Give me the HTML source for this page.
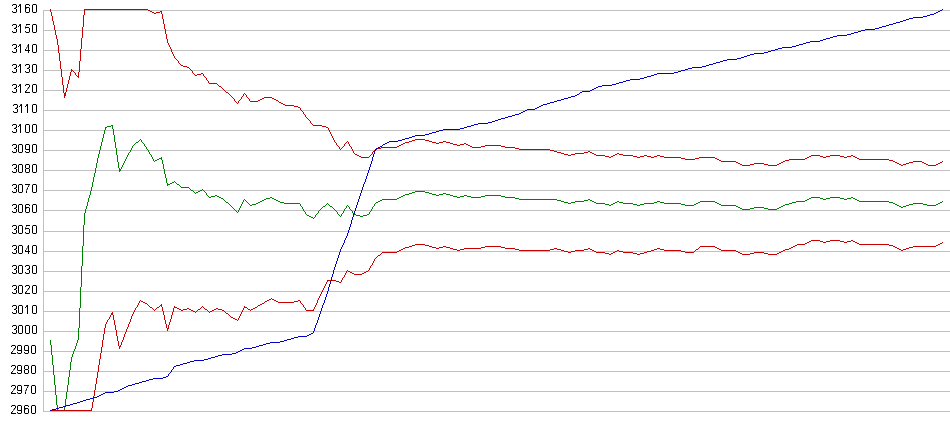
<!DOCTYPE html>
<html><head><meta charset="utf-8"><style>
html,body{margin:0;padding:0;background:#fff;}
body{width:950px;height:435px;overflow:hidden;position:relative;font-family:"Liberation Sans",sans-serif;}
.g{position:absolute;left:43px;width:907px;height:1px;background:#c0c0c0;}
.ax{position:absolute;left:43px;top:10px;width:1px;height:402px;background:#c0c0c0;}
.t{position:absolute;left:8px;width:30px;text-align:right;font-size:12px;line-height:9px;height:9px;color:transparent;white-space:nowrap;}
svg{position:absolute;left:0;top:0;}
</style></head><body>
<div class="g" style="top:10px"></div>
<div class="g" style="top:30px"></div>
<div class="g" style="top:50px"></div>
<div class="g" style="top:70px"></div>
<div class="g" style="top:90px"></div>
<div class="g" style="top:110px"></div>
<div class="g" style="top:130px"></div>
<div class="g" style="top:150px"></div>
<div class="g" style="top:170px"></div>
<div class="g" style="top:190px"></div>
<div class="g" style="top:210px"></div>
<div class="g" style="top:231px"></div>
<div class="g" style="top:251px"></div>
<div class="g" style="top:271px"></div>
<div class="g" style="top:291px"></div>
<div class="g" style="top:311px"></div>
<div class="g" style="top:331px"></div>
<div class="g" style="top:351px"></div>
<div class="g" style="top:371px"></div>
<div class="g" style="top:391px"></div>
<div class="g" style="top:411px"></div>
<div class="ax"></div>
<svg width="44" height="435" viewBox="0 0 44 435" shape-rendering="crispEdges"><path fill="#000000" d="M13 4h1v1h-1zM14 4h1v1h-1zM15 4h1v1h-1zM12 5h1v1h-1zM16 5h1v1h-1zM16 6h1v1h-1zM16 7h1v1h-1zM14 8h1v1h-1zM15 8h1v1h-1zM16 9h1v1h-1zM16 10h1v1h-1zM12 11h1v1h-1zM16 11h1v1h-1zM13 12h1v1h-1zM14 12h1v1h-1zM15 12h1v1h-1zM20 4h1v1h-1zM19 5h1v1h-1zM20 5h1v1h-1zM18 6h1v1h-1zM20 6h1v1h-1zM20 7h1v1h-1zM20 8h1v1h-1zM20 9h1v1h-1zM20 10h1v1h-1zM20 11h1v1h-1zM20 12h1v1h-1zM26 4h1v1h-1zM27 4h1v1h-1zM28 4h1v1h-1zM25 5h1v1h-1zM29 5h1v1h-1zM25 6h1v1h-1zM25 7h1v1h-1zM26 7h1v1h-1zM27 7h1v1h-1zM28 7h1v1h-1zM25 8h1v1h-1zM29 8h1v1h-1zM25 9h1v1h-1zM29 9h1v1h-1zM25 10h1v1h-1zM29 10h1v1h-1zM25 11h1v1h-1zM29 11h1v1h-1zM26 12h1v1h-1zM27 12h1v1h-1zM28 12h1v1h-1zM33 4h1v1h-1zM34 4h1v1h-1zM35 4h1v1h-1zM32 5h1v1h-1zM36 5h1v1h-1zM32 6h1v1h-1zM36 6h1v1h-1zM32 7h1v1h-1zM36 7h1v1h-1zM32 8h1v1h-1zM36 8h1v1h-1zM32 9h1v1h-1zM36 9h1v1h-1zM32 10h1v1h-1zM36 10h1v1h-1zM32 11h1v1h-1zM36 11h1v1h-1zM33 12h1v1h-1zM34 12h1v1h-1zM35 12h1v1h-1zM13 24h1v1h-1zM14 24h1v1h-1zM15 24h1v1h-1zM12 25h1v1h-1zM16 25h1v1h-1zM16 26h1v1h-1zM16 27h1v1h-1zM14 28h1v1h-1zM15 28h1v1h-1zM16 29h1v1h-1zM16 30h1v1h-1zM12 31h1v1h-1zM16 31h1v1h-1zM13 32h1v1h-1zM14 32h1v1h-1zM15 32h1v1h-1zM20 24h1v1h-1zM19 25h1v1h-1zM20 25h1v1h-1zM18 26h1v1h-1zM20 26h1v1h-1zM20 27h1v1h-1zM20 28h1v1h-1zM20 29h1v1h-1zM20 30h1v1h-1zM20 31h1v1h-1zM20 32h1v1h-1zM26 24h1v1h-1zM27 24h1v1h-1zM28 24h1v1h-1zM29 24h1v1h-1zM25 27h1v1h-1zM26 27h1v1h-1zM27 27h1v1h-1zM28 27h1v1h-1zM29 28h1v1h-1zM29 29h1v1h-1zM29 30h1v1h-1zM25 31h1v1h-1zM29 31h1v1h-1zM26 32h1v1h-1zM27 32h1v1h-1zM28 32h1v1h-1zM33 24h1v1h-1zM34 24h1v1h-1zM35 24h1v1h-1zM32 25h1v1h-1zM36 25h1v1h-1zM32 26h1v1h-1zM36 26h1v1h-1zM32 27h1v1h-1zM36 27h1v1h-1zM32 28h1v1h-1zM36 28h1v1h-1zM32 29h1v1h-1zM36 29h1v1h-1zM32 30h1v1h-1zM36 30h1v1h-1zM32 31h1v1h-1zM36 31h1v1h-1zM33 32h1v1h-1zM34 32h1v1h-1zM35 32h1v1h-1zM13 44h1v1h-1zM14 44h1v1h-1zM15 44h1v1h-1zM12 45h1v1h-1zM16 45h1v1h-1zM16 46h1v1h-1zM16 47h1v1h-1zM14 48h1v1h-1zM15 48h1v1h-1zM16 49h1v1h-1zM16 50h1v1h-1zM12 51h1v1h-1zM16 51h1v1h-1zM13 52h1v1h-1zM14 52h1v1h-1zM15 52h1v1h-1zM20 44h1v1h-1zM19 45h1v1h-1zM20 45h1v1h-1zM18 46h1v1h-1zM20 46h1v1h-1zM20 47h1v1h-1zM20 48h1v1h-1zM20 49h1v1h-1zM20 50h1v1h-1zM20 51h1v1h-1zM20 52h1v1h-1zM28 44h1v1h-1zM28 45h1v1h-1zM28 46h1v1h-1zM28 47h1v1h-1zM28 48h1v1h-1zM25 49h1v1h-1zM28 49h1v1h-1zM25 50h1v1h-1zM26 50h1v1h-1zM27 50h1v1h-1zM28 50h1v1h-1zM29 50h1v1h-1zM28 51h1v1h-1zM28 52h1v1h-1zM33 44h1v1h-1zM34 44h1v1h-1zM35 44h1v1h-1zM32 45h1v1h-1zM36 45h1v1h-1zM32 46h1v1h-1zM36 46h1v1h-1zM32 47h1v1h-1zM36 47h1v1h-1zM32 48h1v1h-1zM36 48h1v1h-1zM32 49h1v1h-1zM36 49h1v1h-1zM32 50h1v1h-1zM36 50h1v1h-1zM32 51h1v1h-1zM36 51h1v1h-1zM33 52h1v1h-1zM34 52h1v1h-1zM35 52h1v1h-1zM13 64h1v1h-1zM14 64h1v1h-1zM15 64h1v1h-1zM12 65h1v1h-1zM16 65h1v1h-1zM16 66h1v1h-1zM16 67h1v1h-1zM14 68h1v1h-1zM15 68h1v1h-1zM16 69h1v1h-1zM16 70h1v1h-1zM12 71h1v1h-1zM16 71h1v1h-1zM13 72h1v1h-1zM14 72h1v1h-1zM15 72h1v1h-1zM20 64h1v1h-1zM19 65h1v1h-1zM20 65h1v1h-1zM18 66h1v1h-1zM20 66h1v1h-1zM20 67h1v1h-1zM20 68h1v1h-1zM20 69h1v1h-1zM20 70h1v1h-1zM20 71h1v1h-1zM20 72h1v1h-1zM26 64h1v1h-1zM27 64h1v1h-1zM28 64h1v1h-1zM25 65h1v1h-1zM29 65h1v1h-1zM29 66h1v1h-1zM29 67h1v1h-1zM27 68h1v1h-1zM28 68h1v1h-1zM29 69h1v1h-1zM29 70h1v1h-1zM25 71h1v1h-1zM29 71h1v1h-1zM26 72h1v1h-1zM27 72h1v1h-1zM28 72h1v1h-1zM33 64h1v1h-1zM34 64h1v1h-1zM35 64h1v1h-1zM32 65h1v1h-1zM36 65h1v1h-1zM32 66h1v1h-1zM36 66h1v1h-1zM32 67h1v1h-1zM36 67h1v1h-1zM32 68h1v1h-1zM36 68h1v1h-1zM32 69h1v1h-1zM36 69h1v1h-1zM32 70h1v1h-1zM36 70h1v1h-1zM32 71h1v1h-1zM36 71h1v1h-1zM33 72h1v1h-1zM34 72h1v1h-1zM35 72h1v1h-1zM13 84h1v1h-1zM14 84h1v1h-1zM15 84h1v1h-1zM12 85h1v1h-1zM16 85h1v1h-1zM16 86h1v1h-1zM16 87h1v1h-1zM14 88h1v1h-1zM15 88h1v1h-1zM16 89h1v1h-1zM16 90h1v1h-1zM12 91h1v1h-1zM16 91h1v1h-1zM13 92h1v1h-1zM14 92h1v1h-1zM15 92h1v1h-1zM20 84h1v1h-1zM19 85h1v1h-1zM20 85h1v1h-1zM18 86h1v1h-1zM20 86h1v1h-1zM20 87h1v1h-1zM20 88h1v1h-1zM20 89h1v1h-1zM20 90h1v1h-1zM20 91h1v1h-1zM20 92h1v1h-1zM26 84h1v1h-1zM27 84h1v1h-1zM28 84h1v1h-1zM25 85h1v1h-1zM29 85h1v1h-1zM29 86h1v1h-1zM28 87h1v1h-1zM26 90h1v1h-1zM25 91h1v1h-1zM25 92h1v1h-1zM26 92h1v1h-1zM27 92h1v1h-1zM28 92h1v1h-1zM29 92h1v1h-1zM33 84h1v1h-1zM34 84h1v1h-1zM35 84h1v1h-1zM32 85h1v1h-1zM36 85h1v1h-1zM32 86h1v1h-1zM36 86h1v1h-1zM32 87h1v1h-1zM36 87h1v1h-1zM32 88h1v1h-1zM36 88h1v1h-1zM32 89h1v1h-1zM36 89h1v1h-1zM32 90h1v1h-1zM36 90h1v1h-1zM32 91h1v1h-1zM36 91h1v1h-1zM33 92h1v1h-1zM34 92h1v1h-1zM35 92h1v1h-1zM14 104h1v1h-1zM15 104h1v1h-1zM16 104h1v1h-1zM13 105h1v1h-1zM17 105h1v1h-1zM17 106h1v1h-1zM17 107h1v1h-1zM15 108h1v1h-1zM16 108h1v1h-1zM17 109h1v1h-1zM17 110h1v1h-1zM13 111h1v1h-1zM17 111h1v1h-1zM14 112h1v1h-1zM15 112h1v1h-1zM16 112h1v1h-1zM21 104h1v1h-1zM20 105h1v1h-1zM21 105h1v1h-1zM19 106h1v1h-1zM21 106h1v1h-1zM21 107h1v1h-1zM21 108h1v1h-1zM21 109h1v1h-1zM21 110h1v1h-1zM21 111h1v1h-1zM21 112h1v1h-1zM27 104h1v1h-1zM26 105h1v1h-1zM27 105h1v1h-1zM25 106h1v1h-1zM27 106h1v1h-1zM27 107h1v1h-1zM27 108h1v1h-1zM27 109h1v1h-1zM27 110h1v1h-1zM27 111h1v1h-1zM27 112h1v1h-1zM33 104h1v1h-1zM34 104h1v1h-1zM35 104h1v1h-1zM32 105h1v1h-1zM36 105h1v1h-1zM32 106h1v1h-1zM36 106h1v1h-1zM32 107h1v1h-1zM36 107h1v1h-1zM32 108h1v1h-1zM36 108h1v1h-1zM32 109h1v1h-1zM36 109h1v1h-1zM32 110h1v1h-1zM36 110h1v1h-1zM32 111h1v1h-1zM36 111h1v1h-1zM33 112h1v1h-1zM34 112h1v1h-1zM35 112h1v1h-1zM13 124h1v1h-1zM14 124h1v1h-1zM15 124h1v1h-1zM12 125h1v1h-1zM16 125h1v1h-1zM16 126h1v1h-1zM16 127h1v1h-1zM14 128h1v1h-1zM15 128h1v1h-1zM16 129h1v1h-1zM16 130h1v1h-1zM12 131h1v1h-1zM16 131h1v1h-1zM13 132h1v1h-1zM14 132h1v1h-1zM15 132h1v1h-1zM20 124h1v1h-1zM19 125h1v1h-1zM20 125h1v1h-1zM18 126h1v1h-1zM20 126h1v1h-1zM20 127h1v1h-1zM20 128h1v1h-1zM20 129h1v1h-1zM20 130h1v1h-1zM20 131h1v1h-1zM20 132h1v1h-1zM26 124h1v1h-1zM27 124h1v1h-1zM28 124h1v1h-1zM25 125h1v1h-1zM29 125h1v1h-1zM25 126h1v1h-1zM29 126h1v1h-1zM25 127h1v1h-1zM29 127h1v1h-1zM25 128h1v1h-1zM29 128h1v1h-1zM25 129h1v1h-1zM29 129h1v1h-1zM25 130h1v1h-1zM29 130h1v1h-1zM25 131h1v1h-1zM29 131h1v1h-1zM26 132h1v1h-1zM27 132h1v1h-1zM28 132h1v1h-1zM33 124h1v1h-1zM34 124h1v1h-1zM35 124h1v1h-1zM32 125h1v1h-1zM36 125h1v1h-1zM32 126h1v1h-1zM36 126h1v1h-1zM32 127h1v1h-1zM36 127h1v1h-1zM32 128h1v1h-1zM36 128h1v1h-1zM32 129h1v1h-1zM36 129h1v1h-1zM32 130h1v1h-1zM36 130h1v1h-1zM32 131h1v1h-1zM36 131h1v1h-1zM33 132h1v1h-1zM34 132h1v1h-1zM35 132h1v1h-1zM13 144h1v1h-1zM14 144h1v1h-1zM15 144h1v1h-1zM12 145h1v1h-1zM16 145h1v1h-1zM16 146h1v1h-1zM16 147h1v1h-1zM14 148h1v1h-1zM15 148h1v1h-1zM16 149h1v1h-1zM16 150h1v1h-1zM12 151h1v1h-1zM16 151h1v1h-1zM13 152h1v1h-1zM14 152h1v1h-1zM15 152h1v1h-1zM19 144h1v1h-1zM20 144h1v1h-1zM21 144h1v1h-1zM18 145h1v1h-1zM22 145h1v1h-1zM18 146h1v1h-1zM22 146h1v1h-1zM18 147h1v1h-1zM22 147h1v1h-1zM18 148h1v1h-1zM22 148h1v1h-1zM18 149h1v1h-1zM22 149h1v1h-1zM18 150h1v1h-1zM22 150h1v1h-1zM18 151h1v1h-1zM22 151h1v1h-1zM19 152h1v1h-1zM20 152h1v1h-1zM21 152h1v1h-1zM26 144h1v1h-1zM27 144h1v1h-1zM28 144h1v1h-1zM25 145h1v1h-1zM29 145h1v1h-1zM25 146h1v1h-1zM29 146h1v1h-1zM25 147h1v1h-1zM29 147h1v1h-1zM25 148h1v1h-1zM29 148h1v1h-1zM26 149h1v1h-1zM27 149h1v1h-1zM28 149h1v1h-1zM29 149h1v1h-1zM29 150h1v1h-1zM25 151h1v1h-1zM29 151h1v1h-1zM26 152h1v1h-1zM27 152h1v1h-1zM28 152h1v1h-1zM33 144h1v1h-1zM34 144h1v1h-1zM35 144h1v1h-1zM32 145h1v1h-1zM36 145h1v1h-1zM32 146h1v1h-1zM36 146h1v1h-1zM32 147h1v1h-1zM36 147h1v1h-1zM32 148h1v1h-1zM36 148h1v1h-1zM32 149h1v1h-1zM36 149h1v1h-1zM32 150h1v1h-1zM36 150h1v1h-1zM32 151h1v1h-1zM36 151h1v1h-1zM33 152h1v1h-1zM34 152h1v1h-1zM35 152h1v1h-1zM13 164h1v1h-1zM14 164h1v1h-1zM15 164h1v1h-1zM12 165h1v1h-1zM16 165h1v1h-1zM16 166h1v1h-1zM16 167h1v1h-1zM14 168h1v1h-1zM15 168h1v1h-1zM16 169h1v1h-1zM16 170h1v1h-1zM12 171h1v1h-1zM16 171h1v1h-1zM13 172h1v1h-1zM14 172h1v1h-1zM15 172h1v1h-1zM19 164h1v1h-1zM20 164h1v1h-1zM21 164h1v1h-1zM18 165h1v1h-1zM22 165h1v1h-1zM18 166h1v1h-1zM22 166h1v1h-1zM18 167h1v1h-1zM22 167h1v1h-1zM18 168h1v1h-1zM22 168h1v1h-1zM18 169h1v1h-1zM22 169h1v1h-1zM18 170h1v1h-1zM22 170h1v1h-1zM18 171h1v1h-1zM22 171h1v1h-1zM19 172h1v1h-1zM20 172h1v1h-1zM21 172h1v1h-1zM26 164h1v1h-1zM27 164h1v1h-1zM28 164h1v1h-1zM25 165h1v1h-1zM29 165h1v1h-1zM25 166h1v1h-1zM29 166h1v1h-1zM25 167h1v1h-1zM29 167h1v1h-1zM26 168h1v1h-1zM27 168h1v1h-1zM28 168h1v1h-1zM25 169h1v1h-1zM29 169h1v1h-1zM25 170h1v1h-1zM29 170h1v1h-1zM25 171h1v1h-1zM29 171h1v1h-1zM26 172h1v1h-1zM27 172h1v1h-1zM28 172h1v1h-1zM33 164h1v1h-1zM34 164h1v1h-1zM35 164h1v1h-1zM32 165h1v1h-1zM36 165h1v1h-1zM32 166h1v1h-1zM36 166h1v1h-1zM32 167h1v1h-1zM36 167h1v1h-1zM32 168h1v1h-1zM36 168h1v1h-1zM32 169h1v1h-1zM36 169h1v1h-1zM32 170h1v1h-1zM36 170h1v1h-1zM32 171h1v1h-1zM36 171h1v1h-1zM33 172h1v1h-1zM34 172h1v1h-1zM35 172h1v1h-1zM13 184h1v1h-1zM14 184h1v1h-1zM15 184h1v1h-1zM12 185h1v1h-1zM16 185h1v1h-1zM16 186h1v1h-1zM16 187h1v1h-1zM14 188h1v1h-1zM15 188h1v1h-1zM16 189h1v1h-1zM16 190h1v1h-1zM12 191h1v1h-1zM16 191h1v1h-1zM13 192h1v1h-1zM14 192h1v1h-1zM15 192h1v1h-1zM19 184h1v1h-1zM20 184h1v1h-1zM21 184h1v1h-1zM18 185h1v1h-1zM22 185h1v1h-1zM18 186h1v1h-1zM22 186h1v1h-1zM18 187h1v1h-1zM22 187h1v1h-1zM18 188h1v1h-1zM22 188h1v1h-1zM18 189h1v1h-1zM22 189h1v1h-1zM18 190h1v1h-1zM22 190h1v1h-1zM18 191h1v1h-1zM22 191h1v1h-1zM19 192h1v1h-1zM20 192h1v1h-1zM21 192h1v1h-1zM25 184h1v1h-1zM26 184h1v1h-1zM27 184h1v1h-1zM28 184h1v1h-1zM29 184h1v1h-1zM28 186h1v1h-1zM27 188h1v1h-1zM26 191h1v1h-1zM26 192h1v1h-1zM33 184h1v1h-1zM34 184h1v1h-1zM35 184h1v1h-1zM32 185h1v1h-1zM36 185h1v1h-1zM32 186h1v1h-1zM36 186h1v1h-1zM32 187h1v1h-1zM36 187h1v1h-1zM32 188h1v1h-1zM36 188h1v1h-1zM32 189h1v1h-1zM36 189h1v1h-1zM32 190h1v1h-1zM36 190h1v1h-1zM32 191h1v1h-1zM36 191h1v1h-1zM33 192h1v1h-1zM34 192h1v1h-1zM35 192h1v1h-1zM13 204h1v1h-1zM14 204h1v1h-1zM15 204h1v1h-1zM12 205h1v1h-1zM16 205h1v1h-1zM16 206h1v1h-1zM16 207h1v1h-1zM14 208h1v1h-1zM15 208h1v1h-1zM16 209h1v1h-1zM16 210h1v1h-1zM12 211h1v1h-1zM16 211h1v1h-1zM13 212h1v1h-1zM14 212h1v1h-1zM15 212h1v1h-1zM19 204h1v1h-1zM20 204h1v1h-1zM21 204h1v1h-1zM18 205h1v1h-1zM22 205h1v1h-1zM18 206h1v1h-1zM22 206h1v1h-1zM18 207h1v1h-1zM22 207h1v1h-1zM18 208h1v1h-1zM22 208h1v1h-1zM18 209h1v1h-1zM22 209h1v1h-1zM18 210h1v1h-1zM22 210h1v1h-1zM18 211h1v1h-1zM22 211h1v1h-1zM19 212h1v1h-1zM20 212h1v1h-1zM21 212h1v1h-1zM26 204h1v1h-1zM27 204h1v1h-1zM28 204h1v1h-1zM25 205h1v1h-1zM29 205h1v1h-1zM25 206h1v1h-1zM25 207h1v1h-1zM26 207h1v1h-1zM27 207h1v1h-1zM28 207h1v1h-1zM25 208h1v1h-1zM29 208h1v1h-1zM25 209h1v1h-1zM29 209h1v1h-1zM25 210h1v1h-1zM29 210h1v1h-1zM25 211h1v1h-1zM29 211h1v1h-1zM26 212h1v1h-1zM27 212h1v1h-1zM28 212h1v1h-1zM33 204h1v1h-1zM34 204h1v1h-1zM35 204h1v1h-1zM32 205h1v1h-1zM36 205h1v1h-1zM32 206h1v1h-1zM36 206h1v1h-1zM32 207h1v1h-1zM36 207h1v1h-1zM32 208h1v1h-1zM36 208h1v1h-1zM32 209h1v1h-1zM36 209h1v1h-1zM32 210h1v1h-1zM36 210h1v1h-1zM32 211h1v1h-1zM36 211h1v1h-1zM33 212h1v1h-1zM34 212h1v1h-1zM35 212h1v1h-1zM13 225h1v1h-1zM14 225h1v1h-1zM15 225h1v1h-1zM12 226h1v1h-1zM16 226h1v1h-1zM16 227h1v1h-1zM16 228h1v1h-1zM14 229h1v1h-1zM15 229h1v1h-1zM16 230h1v1h-1zM16 231h1v1h-1zM12 232h1v1h-1zM16 232h1v1h-1zM13 233h1v1h-1zM14 233h1v1h-1zM15 233h1v1h-1zM19 225h1v1h-1zM20 225h1v1h-1zM21 225h1v1h-1zM18 226h1v1h-1zM22 226h1v1h-1zM18 227h1v1h-1zM22 227h1v1h-1zM18 228h1v1h-1zM22 228h1v1h-1zM18 229h1v1h-1zM22 229h1v1h-1zM18 230h1v1h-1zM22 230h1v1h-1zM18 231h1v1h-1zM22 231h1v1h-1zM18 232h1v1h-1zM22 232h1v1h-1zM19 233h1v1h-1zM20 233h1v1h-1zM21 233h1v1h-1zM26 225h1v1h-1zM27 225h1v1h-1zM28 225h1v1h-1zM29 225h1v1h-1zM25 228h1v1h-1zM26 228h1v1h-1zM27 228h1v1h-1zM28 228h1v1h-1zM29 229h1v1h-1zM29 230h1v1h-1zM29 231h1v1h-1zM25 232h1v1h-1zM29 232h1v1h-1zM26 233h1v1h-1zM27 233h1v1h-1zM28 233h1v1h-1zM33 225h1v1h-1zM34 225h1v1h-1zM35 225h1v1h-1zM32 226h1v1h-1zM36 226h1v1h-1zM32 227h1v1h-1zM36 227h1v1h-1zM32 228h1v1h-1zM36 228h1v1h-1zM32 229h1v1h-1zM36 229h1v1h-1zM32 230h1v1h-1zM36 230h1v1h-1zM32 231h1v1h-1zM36 231h1v1h-1zM32 232h1v1h-1zM36 232h1v1h-1zM33 233h1v1h-1zM34 233h1v1h-1zM35 233h1v1h-1zM13 245h1v1h-1zM14 245h1v1h-1zM15 245h1v1h-1zM12 246h1v1h-1zM16 246h1v1h-1zM16 247h1v1h-1zM16 248h1v1h-1zM14 249h1v1h-1zM15 249h1v1h-1zM16 250h1v1h-1zM16 251h1v1h-1zM12 252h1v1h-1zM16 252h1v1h-1zM13 253h1v1h-1zM14 253h1v1h-1zM15 253h1v1h-1zM19 245h1v1h-1zM20 245h1v1h-1zM21 245h1v1h-1zM18 246h1v1h-1zM22 246h1v1h-1zM18 247h1v1h-1zM22 247h1v1h-1zM18 248h1v1h-1zM22 248h1v1h-1zM18 249h1v1h-1zM22 249h1v1h-1zM18 250h1v1h-1zM22 250h1v1h-1zM18 251h1v1h-1zM22 251h1v1h-1zM18 252h1v1h-1zM22 252h1v1h-1zM19 253h1v1h-1zM20 253h1v1h-1zM21 253h1v1h-1zM28 245h1v1h-1zM28 246h1v1h-1zM28 247h1v1h-1zM28 248h1v1h-1zM28 249h1v1h-1zM25 250h1v1h-1zM28 250h1v1h-1zM25 251h1v1h-1zM26 251h1v1h-1zM27 251h1v1h-1zM28 251h1v1h-1zM29 251h1v1h-1zM28 252h1v1h-1zM28 253h1v1h-1zM33 245h1v1h-1zM34 245h1v1h-1zM35 245h1v1h-1zM32 246h1v1h-1zM36 246h1v1h-1zM32 247h1v1h-1zM36 247h1v1h-1zM32 248h1v1h-1zM36 248h1v1h-1zM32 249h1v1h-1zM36 249h1v1h-1zM32 250h1v1h-1zM36 250h1v1h-1zM32 251h1v1h-1zM36 251h1v1h-1zM32 252h1v1h-1zM36 252h1v1h-1zM33 253h1v1h-1zM34 253h1v1h-1zM35 253h1v1h-1zM13 265h1v1h-1zM14 265h1v1h-1zM15 265h1v1h-1zM12 266h1v1h-1zM16 266h1v1h-1zM16 267h1v1h-1zM16 268h1v1h-1zM14 269h1v1h-1zM15 269h1v1h-1zM16 270h1v1h-1zM16 271h1v1h-1zM12 272h1v1h-1zM16 272h1v1h-1zM13 273h1v1h-1zM14 273h1v1h-1zM15 273h1v1h-1zM19 265h1v1h-1zM20 265h1v1h-1zM21 265h1v1h-1zM18 266h1v1h-1zM22 266h1v1h-1zM18 267h1v1h-1zM22 267h1v1h-1zM18 268h1v1h-1zM22 268h1v1h-1zM18 269h1v1h-1zM22 269h1v1h-1zM18 270h1v1h-1zM22 270h1v1h-1zM18 271h1v1h-1zM22 271h1v1h-1zM18 272h1v1h-1zM22 272h1v1h-1zM19 273h1v1h-1zM20 273h1v1h-1zM21 273h1v1h-1zM26 265h1v1h-1zM27 265h1v1h-1zM28 265h1v1h-1zM25 266h1v1h-1zM29 266h1v1h-1zM29 267h1v1h-1zM29 268h1v1h-1zM27 269h1v1h-1zM28 269h1v1h-1zM29 270h1v1h-1zM29 271h1v1h-1zM25 272h1v1h-1zM29 272h1v1h-1zM26 273h1v1h-1zM27 273h1v1h-1zM28 273h1v1h-1zM33 265h1v1h-1zM34 265h1v1h-1zM35 265h1v1h-1zM32 266h1v1h-1zM36 266h1v1h-1zM32 267h1v1h-1zM36 267h1v1h-1zM32 268h1v1h-1zM36 268h1v1h-1zM32 269h1v1h-1zM36 269h1v1h-1zM32 270h1v1h-1zM36 270h1v1h-1zM32 271h1v1h-1zM36 271h1v1h-1zM32 272h1v1h-1zM36 272h1v1h-1zM33 273h1v1h-1zM34 273h1v1h-1zM35 273h1v1h-1zM13 285h1v1h-1zM14 285h1v1h-1zM15 285h1v1h-1zM12 286h1v1h-1zM16 286h1v1h-1zM16 287h1v1h-1zM16 288h1v1h-1zM14 289h1v1h-1zM15 289h1v1h-1zM16 290h1v1h-1zM16 291h1v1h-1zM12 292h1v1h-1zM16 292h1v1h-1zM13 293h1v1h-1zM14 293h1v1h-1zM15 293h1v1h-1zM19 285h1v1h-1zM20 285h1v1h-1zM21 285h1v1h-1zM18 286h1v1h-1zM22 286h1v1h-1zM18 287h1v1h-1zM22 287h1v1h-1zM18 288h1v1h-1zM22 288h1v1h-1zM18 289h1v1h-1zM22 289h1v1h-1zM18 290h1v1h-1zM22 290h1v1h-1zM18 291h1v1h-1zM22 291h1v1h-1zM18 292h1v1h-1zM22 292h1v1h-1zM19 293h1v1h-1zM20 293h1v1h-1zM21 293h1v1h-1zM26 285h1v1h-1zM27 285h1v1h-1zM28 285h1v1h-1zM25 286h1v1h-1zM29 286h1v1h-1zM29 287h1v1h-1zM28 288h1v1h-1zM26 291h1v1h-1zM25 292h1v1h-1zM25 293h1v1h-1zM26 293h1v1h-1zM27 293h1v1h-1zM28 293h1v1h-1zM29 293h1v1h-1zM33 285h1v1h-1zM34 285h1v1h-1zM35 285h1v1h-1zM32 286h1v1h-1zM36 286h1v1h-1zM32 287h1v1h-1zM36 287h1v1h-1zM32 288h1v1h-1zM36 288h1v1h-1zM32 289h1v1h-1zM36 289h1v1h-1zM32 290h1v1h-1zM36 290h1v1h-1zM32 291h1v1h-1zM36 291h1v1h-1zM32 292h1v1h-1zM36 292h1v1h-1zM33 293h1v1h-1zM34 293h1v1h-1zM35 293h1v1h-1zM13 305h1v1h-1zM14 305h1v1h-1zM15 305h1v1h-1zM12 306h1v1h-1zM16 306h1v1h-1zM16 307h1v1h-1zM16 308h1v1h-1zM14 309h1v1h-1zM15 309h1v1h-1zM16 310h1v1h-1zM16 311h1v1h-1zM12 312h1v1h-1zM16 312h1v1h-1zM13 313h1v1h-1zM14 313h1v1h-1zM15 313h1v1h-1zM19 305h1v1h-1zM20 305h1v1h-1zM21 305h1v1h-1zM18 306h1v1h-1zM22 306h1v1h-1zM18 307h1v1h-1zM22 307h1v1h-1zM18 308h1v1h-1zM22 308h1v1h-1zM18 309h1v1h-1zM22 309h1v1h-1zM18 310h1v1h-1zM22 310h1v1h-1zM18 311h1v1h-1zM22 311h1v1h-1zM18 312h1v1h-1zM22 312h1v1h-1zM19 313h1v1h-1zM20 313h1v1h-1zM21 313h1v1h-1zM27 305h1v1h-1zM26 306h1v1h-1zM27 306h1v1h-1zM25 307h1v1h-1zM27 307h1v1h-1zM27 308h1v1h-1zM27 309h1v1h-1zM27 310h1v1h-1zM27 311h1v1h-1zM27 312h1v1h-1zM27 313h1v1h-1zM33 305h1v1h-1zM34 305h1v1h-1zM35 305h1v1h-1zM32 306h1v1h-1zM36 306h1v1h-1zM32 307h1v1h-1zM36 307h1v1h-1zM32 308h1v1h-1zM36 308h1v1h-1zM32 309h1v1h-1zM36 309h1v1h-1zM32 310h1v1h-1zM36 310h1v1h-1zM32 311h1v1h-1zM36 311h1v1h-1zM32 312h1v1h-1zM36 312h1v1h-1zM33 313h1v1h-1zM34 313h1v1h-1zM35 313h1v1h-1zM13 325h1v1h-1zM14 325h1v1h-1zM15 325h1v1h-1zM12 326h1v1h-1zM16 326h1v1h-1zM16 327h1v1h-1zM16 328h1v1h-1zM14 329h1v1h-1zM15 329h1v1h-1zM16 330h1v1h-1zM16 331h1v1h-1zM12 332h1v1h-1zM16 332h1v1h-1zM13 333h1v1h-1zM14 333h1v1h-1zM15 333h1v1h-1zM19 325h1v1h-1zM20 325h1v1h-1zM21 325h1v1h-1zM18 326h1v1h-1zM22 326h1v1h-1zM18 327h1v1h-1zM22 327h1v1h-1zM18 328h1v1h-1zM22 328h1v1h-1zM18 329h1v1h-1zM22 329h1v1h-1zM18 330h1v1h-1zM22 330h1v1h-1zM18 331h1v1h-1zM22 331h1v1h-1zM18 332h1v1h-1zM22 332h1v1h-1zM19 333h1v1h-1zM20 333h1v1h-1zM21 333h1v1h-1zM26 325h1v1h-1zM27 325h1v1h-1zM28 325h1v1h-1zM25 326h1v1h-1zM29 326h1v1h-1zM25 327h1v1h-1zM29 327h1v1h-1zM25 328h1v1h-1zM29 328h1v1h-1zM25 329h1v1h-1zM29 329h1v1h-1zM25 330h1v1h-1zM29 330h1v1h-1zM25 331h1v1h-1zM29 331h1v1h-1zM25 332h1v1h-1zM29 332h1v1h-1zM26 333h1v1h-1zM27 333h1v1h-1zM28 333h1v1h-1zM33 325h1v1h-1zM34 325h1v1h-1zM35 325h1v1h-1zM32 326h1v1h-1zM36 326h1v1h-1zM32 327h1v1h-1zM36 327h1v1h-1zM32 328h1v1h-1zM36 328h1v1h-1zM32 329h1v1h-1zM36 329h1v1h-1zM32 330h1v1h-1zM36 330h1v1h-1zM32 331h1v1h-1zM36 331h1v1h-1zM32 332h1v1h-1zM36 332h1v1h-1zM33 333h1v1h-1zM34 333h1v1h-1zM35 333h1v1h-1zM12 345h1v1h-1zM13 345h1v1h-1zM14 345h1v1h-1zM11 346h1v1h-1zM15 346h1v1h-1zM15 347h1v1h-1zM14 348h1v1h-1zM12 351h1v1h-1zM11 352h1v1h-1zM11 353h1v1h-1zM12 353h1v1h-1zM13 353h1v1h-1zM14 353h1v1h-1zM15 353h1v1h-1zM18 345h1v1h-1zM19 345h1v1h-1zM20 345h1v1h-1zM17 346h1v1h-1zM21 346h1v1h-1zM17 347h1v1h-1zM21 347h1v1h-1zM17 348h1v1h-1zM21 348h1v1h-1zM17 349h1v1h-1zM21 349h1v1h-1zM18 350h1v1h-1zM19 350h1v1h-1zM20 350h1v1h-1zM21 350h1v1h-1zM21 351h1v1h-1zM17 352h1v1h-1zM21 352h1v1h-1zM18 353h1v1h-1zM19 353h1v1h-1zM20 353h1v1h-1zM25 345h1v1h-1zM26 345h1v1h-1zM27 345h1v1h-1zM24 346h1v1h-1zM28 346h1v1h-1zM24 347h1v1h-1zM28 347h1v1h-1zM24 348h1v1h-1zM28 348h1v1h-1zM24 349h1v1h-1zM28 349h1v1h-1zM25 350h1v1h-1zM26 350h1v1h-1zM27 350h1v1h-1zM28 350h1v1h-1zM28 351h1v1h-1zM24 352h1v1h-1zM28 352h1v1h-1zM25 353h1v1h-1zM26 353h1v1h-1zM27 353h1v1h-1zM32 345h1v1h-1zM33 345h1v1h-1zM34 345h1v1h-1zM31 346h1v1h-1zM35 346h1v1h-1zM31 347h1v1h-1zM35 347h1v1h-1zM31 348h1v1h-1zM35 348h1v1h-1zM31 349h1v1h-1zM35 349h1v1h-1zM31 350h1v1h-1zM35 350h1v1h-1zM31 351h1v1h-1zM35 351h1v1h-1zM31 352h1v1h-1zM35 352h1v1h-1zM32 353h1v1h-1zM33 353h1v1h-1zM34 353h1v1h-1zM12 365h1v1h-1zM13 365h1v1h-1zM14 365h1v1h-1zM11 366h1v1h-1zM15 366h1v1h-1zM15 367h1v1h-1zM14 368h1v1h-1zM12 371h1v1h-1zM11 372h1v1h-1zM11 373h1v1h-1zM12 373h1v1h-1zM13 373h1v1h-1zM14 373h1v1h-1zM15 373h1v1h-1zM18 365h1v1h-1zM19 365h1v1h-1zM20 365h1v1h-1zM17 366h1v1h-1zM21 366h1v1h-1zM17 367h1v1h-1zM21 367h1v1h-1zM17 368h1v1h-1zM21 368h1v1h-1zM17 369h1v1h-1zM21 369h1v1h-1zM18 370h1v1h-1zM19 370h1v1h-1zM20 370h1v1h-1zM21 370h1v1h-1zM21 371h1v1h-1zM17 372h1v1h-1zM21 372h1v1h-1zM18 373h1v1h-1zM19 373h1v1h-1zM20 373h1v1h-1zM25 365h1v1h-1zM26 365h1v1h-1zM27 365h1v1h-1zM24 366h1v1h-1zM28 366h1v1h-1zM24 367h1v1h-1zM28 367h1v1h-1zM24 368h1v1h-1zM28 368h1v1h-1zM25 369h1v1h-1zM26 369h1v1h-1zM27 369h1v1h-1zM24 370h1v1h-1zM28 370h1v1h-1zM24 371h1v1h-1zM28 371h1v1h-1zM24 372h1v1h-1zM28 372h1v1h-1zM25 373h1v1h-1zM26 373h1v1h-1zM27 373h1v1h-1zM32 365h1v1h-1zM33 365h1v1h-1zM34 365h1v1h-1zM31 366h1v1h-1zM35 366h1v1h-1zM31 367h1v1h-1zM35 367h1v1h-1zM31 368h1v1h-1zM35 368h1v1h-1zM31 369h1v1h-1zM35 369h1v1h-1zM31 370h1v1h-1zM35 370h1v1h-1zM31 371h1v1h-1zM35 371h1v1h-1zM31 372h1v1h-1zM35 372h1v1h-1zM32 373h1v1h-1zM33 373h1v1h-1zM34 373h1v1h-1zM12 385h1v1h-1zM13 385h1v1h-1zM14 385h1v1h-1zM11 386h1v1h-1zM15 386h1v1h-1zM15 387h1v1h-1zM14 388h1v1h-1zM12 391h1v1h-1zM11 392h1v1h-1zM11 393h1v1h-1zM12 393h1v1h-1zM13 393h1v1h-1zM14 393h1v1h-1zM15 393h1v1h-1zM18 385h1v1h-1zM19 385h1v1h-1zM20 385h1v1h-1zM17 386h1v1h-1zM21 386h1v1h-1zM17 387h1v1h-1zM21 387h1v1h-1zM17 388h1v1h-1zM21 388h1v1h-1zM17 389h1v1h-1zM21 389h1v1h-1zM18 390h1v1h-1zM19 390h1v1h-1zM20 390h1v1h-1zM21 390h1v1h-1zM21 391h1v1h-1zM17 392h1v1h-1zM21 392h1v1h-1zM18 393h1v1h-1zM19 393h1v1h-1zM20 393h1v1h-1zM24 385h1v1h-1zM25 385h1v1h-1zM26 385h1v1h-1zM27 385h1v1h-1zM28 385h1v1h-1zM27 387h1v1h-1zM26 389h1v1h-1zM25 392h1v1h-1zM25 393h1v1h-1zM32 385h1v1h-1zM33 385h1v1h-1zM34 385h1v1h-1zM31 386h1v1h-1zM35 386h1v1h-1zM31 387h1v1h-1zM35 387h1v1h-1zM31 388h1v1h-1zM35 388h1v1h-1zM31 389h1v1h-1zM35 389h1v1h-1zM31 390h1v1h-1zM35 390h1v1h-1zM31 391h1v1h-1zM35 391h1v1h-1zM31 392h1v1h-1zM35 392h1v1h-1zM32 393h1v1h-1zM33 393h1v1h-1zM34 393h1v1h-1zM12 405h1v1h-1zM13 405h1v1h-1zM14 405h1v1h-1zM11 406h1v1h-1zM15 406h1v1h-1zM15 407h1v1h-1zM14 408h1v1h-1zM12 411h1v1h-1zM11 412h1v1h-1zM11 413h1v1h-1zM12 413h1v1h-1zM13 413h1v1h-1zM14 413h1v1h-1zM15 413h1v1h-1zM18 405h1v1h-1zM19 405h1v1h-1zM20 405h1v1h-1zM17 406h1v1h-1zM21 406h1v1h-1zM17 407h1v1h-1zM21 407h1v1h-1zM17 408h1v1h-1zM21 408h1v1h-1zM17 409h1v1h-1zM21 409h1v1h-1zM18 410h1v1h-1zM19 410h1v1h-1zM20 410h1v1h-1zM21 410h1v1h-1zM21 411h1v1h-1zM17 412h1v1h-1zM21 412h1v1h-1zM18 413h1v1h-1zM19 413h1v1h-1zM20 413h1v1h-1zM25 405h1v1h-1zM26 405h1v1h-1zM27 405h1v1h-1zM24 406h1v1h-1zM28 406h1v1h-1zM24 407h1v1h-1zM24 408h1v1h-1zM25 408h1v1h-1zM26 408h1v1h-1zM27 408h1v1h-1zM24 409h1v1h-1zM28 409h1v1h-1zM24 410h1v1h-1zM28 410h1v1h-1zM24 411h1v1h-1zM28 411h1v1h-1zM24 412h1v1h-1zM28 412h1v1h-1zM25 413h1v1h-1zM26 413h1v1h-1zM27 413h1v1h-1zM32 405h1v1h-1zM33 405h1v1h-1zM34 405h1v1h-1zM31 406h1v1h-1zM35 406h1v1h-1zM31 407h1v1h-1zM35 407h1v1h-1zM31 408h1v1h-1zM35 408h1v1h-1zM31 409h1v1h-1zM35 409h1v1h-1zM31 410h1v1h-1zM35 410h1v1h-1zM31 411h1v1h-1zM35 411h1v1h-1zM31 412h1v1h-1zM35 412h1v1h-1zM32 413h1v1h-1zM33 413h1v1h-1zM34 413h1v1h-1z"/><path fill="#707070" d="M15 7h1v1h-1zM19 4h1v1h-1zM26 8h1v1h-1zM15 27h1v1h-1zM19 24h1v1h-1zM26 25h1v1h-1zM25 26h1v1h-1zM25 28h1v1h-1zM15 47h1v1h-1zM19 44h1v1h-1zM27 45h1v1h-1zM27 46h1v1h-1zM26 47h1v1h-1zM26 48h1v1h-1zM15 67h1v1h-1zM19 64h1v1h-1zM28 67h1v1h-1zM15 87h1v1h-1zM19 84h1v1h-1zM27 88h1v1h-1zM28 88h1v1h-1zM27 89h1v1h-1zM16 107h1v1h-1zM20 104h1v1h-1zM26 104h1v1h-1zM15 127h1v1h-1zM19 124h1v1h-1zM15 147h1v1h-1zM25 149h1v1h-1zM15 167h1v1h-1zM15 187h1v1h-1zM28 185h1v1h-1zM27 187h1v1h-1zM26 189h1v1h-1zM27 189h1v1h-1zM26 190h1v1h-1zM15 207h1v1h-1zM26 208h1v1h-1zM15 228h1v1h-1zM26 226h1v1h-1zM25 227h1v1h-1zM25 229h1v1h-1zM15 248h1v1h-1zM27 246h1v1h-1zM27 247h1v1h-1zM26 248h1v1h-1zM26 249h1v1h-1zM15 268h1v1h-1zM28 268h1v1h-1zM15 288h1v1h-1zM27 289h1v1h-1zM28 289h1v1h-1zM27 290h1v1h-1zM15 308h1v1h-1zM26 305h1v1h-1zM15 328h1v1h-1zM13 349h1v1h-1zM14 349h1v1h-1zM13 350h1v1h-1zM17 350h1v1h-1zM24 350h1v1h-1zM13 369h1v1h-1zM14 369h1v1h-1zM13 370h1v1h-1zM17 370h1v1h-1zM13 389h1v1h-1zM14 389h1v1h-1zM13 390h1v1h-1zM17 390h1v1h-1zM27 386h1v1h-1zM26 388h1v1h-1zM25 390h1v1h-1zM26 390h1v1h-1zM25 391h1v1h-1zM13 409h1v1h-1zM14 409h1v1h-1zM13 410h1v1h-1zM17 410h1v1h-1zM25 409h1v1h-1z"/><path fill="#b8b8b8" d="M12 4h1v1h-1zM16 4h1v1h-1zM12 12h1v1h-1zM16 12h1v1h-1zM25 4h1v1h-1zM29 4h1v1h-1zM29 7h1v1h-1zM25 12h1v1h-1zM29 12h1v1h-1zM32 4h1v1h-1zM36 4h1v1h-1zM32 12h1v1h-1zM36 12h1v1h-1zM12 24h1v1h-1zM16 24h1v1h-1zM12 32h1v1h-1zM16 32h1v1h-1zM25 32h1v1h-1zM29 32h1v1h-1zM32 24h1v1h-1zM36 24h1v1h-1zM32 32h1v1h-1zM36 32h1v1h-1zM12 44h1v1h-1zM16 44h1v1h-1zM12 52h1v1h-1zM16 52h1v1h-1zM27 47h1v1h-1zM32 44h1v1h-1zM36 44h1v1h-1zM32 52h1v1h-1zM36 52h1v1h-1zM12 64h1v1h-1zM16 64h1v1h-1zM12 72h1v1h-1zM16 72h1v1h-1zM25 64h1v1h-1zM29 64h1v1h-1zM25 72h1v1h-1zM29 72h1v1h-1zM32 64h1v1h-1zM36 64h1v1h-1zM32 72h1v1h-1zM36 72h1v1h-1zM12 84h1v1h-1zM16 84h1v1h-1zM12 92h1v1h-1zM16 92h1v1h-1zM25 84h1v1h-1zM29 84h1v1h-1zM29 87h1v1h-1zM26 91h1v1h-1zM32 84h1v1h-1zM36 84h1v1h-1zM32 92h1v1h-1zM36 92h1v1h-1zM13 104h1v1h-1zM17 104h1v1h-1zM13 112h1v1h-1zM17 112h1v1h-1zM32 104h1v1h-1zM36 104h1v1h-1zM32 112h1v1h-1zM36 112h1v1h-1zM12 124h1v1h-1zM16 124h1v1h-1zM12 132h1v1h-1zM16 132h1v1h-1zM25 124h1v1h-1zM29 124h1v1h-1zM25 132h1v1h-1zM29 132h1v1h-1zM32 124h1v1h-1zM36 124h1v1h-1zM32 132h1v1h-1zM36 132h1v1h-1zM12 144h1v1h-1zM16 144h1v1h-1zM12 152h1v1h-1zM16 152h1v1h-1zM18 144h1v1h-1zM22 144h1v1h-1zM18 152h1v1h-1zM22 152h1v1h-1zM25 144h1v1h-1zM29 144h1v1h-1zM25 152h1v1h-1zM29 152h1v1h-1zM32 144h1v1h-1zM36 144h1v1h-1zM32 152h1v1h-1zM36 152h1v1h-1zM12 164h1v1h-1zM16 164h1v1h-1zM12 172h1v1h-1zM16 172h1v1h-1zM18 164h1v1h-1zM22 164h1v1h-1zM18 172h1v1h-1zM22 172h1v1h-1zM25 164h1v1h-1zM29 164h1v1h-1zM25 168h1v1h-1zM29 168h1v1h-1zM25 172h1v1h-1zM29 172h1v1h-1zM32 164h1v1h-1zM36 164h1v1h-1zM32 172h1v1h-1zM36 172h1v1h-1zM12 184h1v1h-1zM16 184h1v1h-1zM12 192h1v1h-1zM16 192h1v1h-1zM18 184h1v1h-1zM22 184h1v1h-1zM18 192h1v1h-1zM22 192h1v1h-1zM29 185h1v1h-1zM32 184h1v1h-1zM36 184h1v1h-1zM32 192h1v1h-1zM36 192h1v1h-1zM12 204h1v1h-1zM16 204h1v1h-1zM12 212h1v1h-1zM16 212h1v1h-1zM18 204h1v1h-1zM22 204h1v1h-1zM18 212h1v1h-1zM22 212h1v1h-1zM25 204h1v1h-1zM29 204h1v1h-1zM29 207h1v1h-1zM25 212h1v1h-1zM29 212h1v1h-1zM32 204h1v1h-1zM36 204h1v1h-1zM32 212h1v1h-1zM36 212h1v1h-1zM12 225h1v1h-1zM16 225h1v1h-1zM12 233h1v1h-1zM16 233h1v1h-1zM18 225h1v1h-1zM22 225h1v1h-1zM18 233h1v1h-1zM22 233h1v1h-1zM25 233h1v1h-1zM29 233h1v1h-1zM32 225h1v1h-1zM36 225h1v1h-1zM32 233h1v1h-1zM36 233h1v1h-1zM12 245h1v1h-1zM16 245h1v1h-1zM12 253h1v1h-1zM16 253h1v1h-1zM18 245h1v1h-1zM22 245h1v1h-1zM18 253h1v1h-1zM22 253h1v1h-1zM27 248h1v1h-1zM32 245h1v1h-1zM36 245h1v1h-1zM32 253h1v1h-1zM36 253h1v1h-1zM12 265h1v1h-1zM16 265h1v1h-1zM12 273h1v1h-1zM16 273h1v1h-1zM18 265h1v1h-1zM22 265h1v1h-1zM18 273h1v1h-1zM22 273h1v1h-1zM25 265h1v1h-1zM29 265h1v1h-1zM25 273h1v1h-1zM29 273h1v1h-1zM32 265h1v1h-1zM36 265h1v1h-1zM32 273h1v1h-1zM36 273h1v1h-1zM12 285h1v1h-1zM16 285h1v1h-1zM12 293h1v1h-1zM16 293h1v1h-1zM18 285h1v1h-1zM22 285h1v1h-1zM18 293h1v1h-1zM22 293h1v1h-1zM25 285h1v1h-1zM29 285h1v1h-1zM29 288h1v1h-1zM26 292h1v1h-1zM32 285h1v1h-1zM36 285h1v1h-1zM32 293h1v1h-1zM36 293h1v1h-1zM12 305h1v1h-1zM16 305h1v1h-1zM12 313h1v1h-1zM16 313h1v1h-1zM18 305h1v1h-1zM22 305h1v1h-1zM18 313h1v1h-1zM22 313h1v1h-1zM32 305h1v1h-1zM36 305h1v1h-1zM32 313h1v1h-1zM36 313h1v1h-1zM12 325h1v1h-1zM16 325h1v1h-1zM12 333h1v1h-1zM16 333h1v1h-1zM18 325h1v1h-1zM22 325h1v1h-1zM18 333h1v1h-1zM22 333h1v1h-1zM25 325h1v1h-1zM29 325h1v1h-1zM25 333h1v1h-1zM29 333h1v1h-1zM32 325h1v1h-1zM36 325h1v1h-1zM32 333h1v1h-1zM36 333h1v1h-1zM11 345h1v1h-1zM15 345h1v1h-1zM15 348h1v1h-1zM12 352h1v1h-1zM17 345h1v1h-1zM21 345h1v1h-1zM17 353h1v1h-1zM21 353h1v1h-1zM24 345h1v1h-1zM28 345h1v1h-1zM24 353h1v1h-1zM28 353h1v1h-1zM31 345h1v1h-1zM35 345h1v1h-1zM31 353h1v1h-1zM35 353h1v1h-1zM11 365h1v1h-1zM15 365h1v1h-1zM15 368h1v1h-1zM12 372h1v1h-1zM17 365h1v1h-1zM21 365h1v1h-1zM17 373h1v1h-1zM21 373h1v1h-1zM24 365h1v1h-1zM28 365h1v1h-1zM24 369h1v1h-1zM28 369h1v1h-1zM24 373h1v1h-1zM28 373h1v1h-1zM31 365h1v1h-1zM35 365h1v1h-1zM31 373h1v1h-1zM35 373h1v1h-1zM11 385h1v1h-1zM15 385h1v1h-1zM15 388h1v1h-1zM12 392h1v1h-1zM17 385h1v1h-1zM21 385h1v1h-1zM17 393h1v1h-1zM21 393h1v1h-1zM28 386h1v1h-1zM31 385h1v1h-1zM35 385h1v1h-1zM31 393h1v1h-1zM35 393h1v1h-1zM11 405h1v1h-1zM15 405h1v1h-1zM15 408h1v1h-1zM12 412h1v1h-1zM17 405h1v1h-1zM21 405h1v1h-1zM17 413h1v1h-1zM21 413h1v1h-1zM24 405h1v1h-1zM28 405h1v1h-1zM28 408h1v1h-1zM24 413h1v1h-1zM28 413h1v1h-1zM31 405h1v1h-1zM35 405h1v1h-1zM31 413h1v1h-1zM35 413h1v1h-1z"/></svg>
<span class="t" style="top:4px">3160</span>
<span class="t" style="top:24px">3150</span>
<span class="t" style="top:44px">3140</span>
<span class="t" style="top:64px">3130</span>
<span class="t" style="top:84px">3120</span>
<span class="t" style="top:104px">3110</span>
<span class="t" style="top:124px">3100</span>
<span class="t" style="top:144px">3090</span>
<span class="t" style="top:164px">3080</span>
<span class="t" style="top:184px">3070</span>
<span class="t" style="top:204px">3060</span>
<span class="t" style="top:225px">3050</span>
<span class="t" style="top:245px">3040</span>
<span class="t" style="top:265px">3030</span>
<span class="t" style="top:285px">3020</span>
<span class="t" style="top:305px">3010</span>
<span class="t" style="top:325px">3000</span>
<span class="t" style="top:345px">2990</span>
<span class="t" style="top:365px">2980</span>
<span class="t" style="top:385px">2970</span>
<span class="t" style="top:405px">2960</span>
<svg width="950" height="435" viewBox="0 0 950 435" shape-rendering="crispEdges">
<path fill="#008000" d="M50 340h1v1h-1zM77 340h1v1h-1zM50 341h1v1h-1zM77 341h1v1h-1zM50 342h1v1h-1zM77 342h1v1h-1zM50 343h1v1h-1zM76 343h1v1h-1zM50 344h1v1h-1zM76 344h1v1h-1zM51 345h1v1h-1zM76 345h1v1h-1zM51 346h1v1h-1zM75 346h1v1h-1zM51 347h1v1h-1zM75 347h1v1h-1zM51 348h1v1h-1zM75 348h1v1h-1zM51 349h1v1h-1zM74 349h1v1h-1zM51 350h1v1h-1zM74 350h1v1h-1zM51 351h1v1h-1zM73 351h1v1h-1zM51 352h1v1h-1zM73 352h1v1h-1zM51 353h1v1h-1zM73 353h1v1h-1zM51 354h1v1h-1zM72 354h1v1h-1zM52 355h1v1h-1zM72 355h1v1h-1zM52 356h1v1h-1zM72 356h1v1h-1zM52 357h1v1h-1zM71 357h1v1h-1zM52 358h1v1h-1zM71 358h1v1h-1zM52 359h1v1h-1zM71 359h1v1h-1zM52 360h1v1h-1zM71 360h1v1h-1zM52 361h1v1h-1zM71 361h1v1h-1zM52 362h1v1h-1zM70 362h1v1h-1zM52 363h1v1h-1zM70 363h1v1h-1zM52 364h1v1h-1zM70 364h1v1h-1zM53 365h1v1h-1zM70 365h1v1h-1zM53 366h1v1h-1zM70 366h1v1h-1zM53 367h1v1h-1zM70 367h1v1h-1zM53 368h1v1h-1zM70 368h1v1h-1zM53 369h1v1h-1zM70 369h1v1h-1zM53 370h1v1h-1zM69 370h1v1h-1zM53 371h1v1h-1zM69 371h1v1h-1zM53 372h1v1h-1zM69 372h1v1h-1zM53 373h1v1h-1zM69 373h1v1h-1zM53 374h1v1h-1zM69 374h1v1h-1zM54 375h1v1h-1zM69 375h1v1h-1zM54 376h1v1h-1zM69 376h1v1h-1zM54 377h1v1h-1zM68 377h1v1h-1zM54 378h1v1h-1zM68 378h1v1h-1zM54 379h1v1h-1zM68 379h1v1h-1zM54 380h1v1h-1zM68 380h1v1h-1zM54 381h1v1h-1zM68 381h1v1h-1zM54 382h1v1h-1zM68 382h1v1h-1zM54 383h1v1h-1zM68 383h1v1h-1zM54 384h1v1h-1zM68 384h1v1h-1zM55 385h1v1h-1zM67 385h1v1h-1zM55 386h1v1h-1zM67 386h1v1h-1zM55 387h1v1h-1zM67 387h1v1h-1zM55 388h1v1h-1zM67 388h1v1h-1zM55 389h1v1h-1zM67 389h1v1h-1zM55 390h1v1h-1zM67 390h1v1h-1zM55 391h1v1h-1zM67 391h1v1h-1zM55 392h1v1h-1zM66 392h1v1h-1zM55 393h1v1h-1zM66 393h1v1h-1zM55 394h1v1h-1zM66 394h1v1h-1zM56 395h1v1h-1zM66 395h1v1h-1zM56 396h1v1h-1zM66 396h1v1h-1zM56 397h1v1h-1zM66 397h1v1h-1zM56 398h1v1h-1zM66 398h1v1h-1zM56 399h1v1h-1zM65 399h1v1h-1zM56 400h1v1h-1zM65 400h1v1h-1zM56 401h1v1h-1zM65 401h1v1h-1zM56 402h1v1h-1zM65 402h1v1h-1zM56 403h1v1h-1zM65 403h1v1h-1zM56 404h1v1h-1zM65 404h1v1h-1zM57 405h1v1h-1zM65 405h1v1h-1zM57 406h1v1h-1zM57 407h1v1h-1zM64 407h1v1h-1zM57 409h1v1h-1zM64 409h1v1h-1zM64 408h1v1h-1zM78 339h1v1h-1zM78 338h1v1h-1zM78 337h1v1h-1zM78 336h1v1h-1zM78 335h1v1h-1zM78 334h1v1h-1zM78 333h1v1h-1zM78 332h1v1h-1zM78 331h1v1h-1zM78 330h1v1h-1zM78 329h1v1h-1zM78 328h1v1h-1zM79 327h1v1h-1zM79 326h1v1h-1zM79 325h1v1h-1zM79 324h1v1h-1zM79 323h1v1h-1zM79 322h1v1h-1zM79 321h1v1h-1zM79 320h1v1h-1zM79 319h1v1h-1zM79 318h1v1h-1zM79 317h1v1h-1zM79 316h1v1h-1zM79 315h1v1h-1zM79 314h1v1h-1zM79 313h1v1h-1zM79 312h1v1h-1zM79 311h1v1h-1zM79 310h1v1h-1zM79 309h1v1h-1zM79 308h1v1h-1zM80 307h1v1h-1zM80 306h1v1h-1zM80 305h1v1h-1zM80 304h1v1h-1zM80 303h1v1h-1zM80 302h1v1h-1zM80 301h1v1h-1zM80 300h1v1h-1zM80 299h1v1h-1zM80 298h1v1h-1zM80 297h1v1h-1zM80 296h1v1h-1zM80 295h1v1h-1zM80 294h1v1h-1zM80 293h1v1h-1zM80 292h1v1h-1zM80 291h1v1h-1zM80 290h1v1h-1zM80 289h1v1h-1zM80 288h1v1h-1zM80 287h1v1h-1zM81 286h1v1h-1zM81 285h1v1h-1zM81 284h1v1h-1zM81 283h1v1h-1zM81 282h1v1h-1zM81 281h1v1h-1zM81 280h1v1h-1zM81 279h1v1h-1zM81 278h1v1h-1zM81 277h1v1h-1zM81 276h1v1h-1zM81 275h1v1h-1zM81 274h1v1h-1zM81 273h1v1h-1zM81 272h1v1h-1zM81 271h1v1h-1zM81 270h1v1h-1zM81 269h1v1h-1zM81 268h1v1h-1zM81 267h1v1h-1zM81 266h1v1h-1zM82 265h1v1h-1zM82 264h1v1h-1zM82 263h1v1h-1zM82 262h1v1h-1zM82 261h1v1h-1zM82 260h1v1h-1zM82 259h1v1h-1zM82 258h1v1h-1zM82 257h1v1h-1zM82 256h1v1h-1zM82 255h1v1h-1zM82 254h1v1h-1zM82 253h1v1h-1zM82 252h1v1h-1zM82 251h1v1h-1zM82 250h1v1h-1zM82 249h1v1h-1zM82 248h1v1h-1zM82 247h1v1h-1zM82 246h1v1h-1zM83 245h1v1h-1zM83 244h1v1h-1zM83 243h1v1h-1zM83 242h1v1h-1zM83 241h1v1h-1zM83 240h1v1h-1zM83 239h1v1h-1zM83 238h1v1h-1zM83 237h1v1h-1zM83 236h1v1h-1zM83 235h1v1h-1zM83 234h1v1h-1zM83 233h1v1h-1zM83 232h1v1h-1zM83 231h1v1h-1zM83 230h1v1h-1zM83 229h1v1h-1zM83 228h1v1h-1zM83 227h1v1h-1zM83 226h1v1h-1zM83 225h1v1h-1zM84 224h1v1h-1zM84 223h1v1h-1zM84 222h1v1h-1zM84 221h1v1h-1zM84 220h1v1h-1zM84 219h1v1h-1zM84 218h1v1h-1zM313 218h1v1h-1zM84 217h1v1h-1zM311 217h2v1h-2zM314 217h1v1h-1zM84 216h1v1h-1zM309 216h2v1h-2zM315 216h1v1h-1zM340 216h1v1h-1zM360 216h3v1h-3zM84 215h1v1h-1zM307 215h2v1h-2zM315 215h1v1h-1zM339 215h1v1h-1zM341 215h1v1h-1zM356 215h4v1h-4zM363 215h4v1h-4zM84 214h1v1h-1zM306 214h1v1h-1zM316 214h1v1h-1zM338 214h1v1h-1zM341 214h1v1h-1zM354 214h2v1h-2zM367 214h2v1h-2zM84 213h1v1h-1zM305 213h1v1h-1zM317 213h1v1h-1zM337 213h1v1h-1zM342 213h1v1h-1zM353 213h1v1h-1zM369 213h1v1h-1zM85 212h1v1h-1zM237 212h1v1h-1zM305 212h1v1h-1zM318 212h1v1h-1zM337 212h1v1h-1zM343 212h1v1h-1zM352 212h1v1h-1zM369 212h1v1h-1zM85 211h1v1h-1zM236 211h1v1h-1zM238 211h1v1h-1zM304 211h1v1h-1zM318 211h1v1h-1zM336 211h1v1h-1zM343 211h1v1h-1zM352 211h1v1h-1zM370 211h1v1h-1zM85 210h1v1h-1zM235 210h1v1h-1zM238 210h1v1h-1zM303 210h1v1h-1zM319 210h1v1h-1zM335 210h1v1h-1zM344 210h1v1h-1zM351 210h1v1h-1zM371 210h1v1h-1zM85 209h1v1h-1zM234 209h1v1h-1zM239 209h1v1h-1zM303 209h1v1h-1zM320 209h1v1h-1zM334 209h1v1h-1zM344 209h1v1h-1zM350 209h1v1h-1zM371 209h1v1h-1zM742 209h8v1h-8zM768 209h9v1h-9zM86 208h1v1h-1zM233 208h1v1h-1zM239 208h1v1h-1zM302 208h1v1h-1zM321 208h1v1h-1zM333 208h1v1h-1zM345 208h1v1h-1zM349 208h1v1h-1zM372 208h1v1h-1zM740 208h2v1h-2zM750 208h4v1h-4zM764 208h4v1h-4zM777 208h2v1h-2zM86 207h1v1h-1zM232 207h1v1h-1zM240 207h1v1h-1zM302 207h1v1h-1zM322 207h1v1h-1zM332 207h1v1h-1zM346 207h1v1h-1zM349 207h1v1h-1zM372 207h1v1h-1zM738 207h2v1h-2zM754 207h10v1h-10zM779 207h2v1h-2zM901 207h2v1h-2zM86 206h1v1h-1zM231 206h1v1h-1zM240 206h1v1h-1zM301 206h1v1h-1zM323 206h2v1h-2zM330 206h2v1h-2zM346 206h1v1h-1zM348 206h1v1h-1zM373 206h1v1h-1zM736 206h2v1h-2zM781 206h2v1h-2zM899 206h2v1h-2zM903 206h3v1h-3zM87 205h1v1h-1zM230 205h1v1h-1zM241 205h1v1h-1zM250 205h2v1h-2zM300 205h1v1h-1zM325 205h1v1h-1zM329 205h1v1h-1zM347 205h1v1h-1zM374 205h1v1h-1zM609 205h2v1h-2zM637 205h3v1h-3zM685 205h9v1h-9zM721 205h15v1h-15zM783 205h2v1h-2zM897 205h2v1h-2zM906 205h3v1h-3zM927 205h9v1h-9zM87 204h1v1h-1zM229 204h1v1h-1zM241 204h1v1h-1zM249 204h1v1h-1zM252 204h4v1h-4zM300 204h1v1h-1zM326 204h1v1h-1zM328 204h1v1h-1zM374 204h1v1h-1zM605 204h4v1h-4zM611 204h2v1h-2zM633 204h4v1h-4zM640 204h4v1h-4zM681 204h4v1h-4zM694 204h2v1h-2zM719 204h2v1h-2zM785 204h4v1h-4zM895 204h2v1h-2zM909 204h4v1h-4zM923 204h4v1h-4zM936 204h2v1h-2zM87 203h1v1h-1zM228 203h1v1h-1zM242 203h1v1h-1zM248 203h1v1h-1zM256 203h2v1h-2zM284 203h16v1h-16zM327 203h1v1h-1zM375 203h1v1h-1zM568 203h3v1h-3zM596 203h9v1h-9zM613 203h2v1h-2zM623 203h10v1h-10zM644 203h10v1h-10zM664 203h17v1h-17zM696 203h2v1h-2zM717 203h2v1h-2zM789 203h3v1h-3zM893 203h2v1h-2zM913 203h10v1h-10zM938 203h2v1h-2zM87 202h1v1h-1zM226 202h2v1h-2zM242 202h1v1h-1zM247 202h1v1h-1zM258 202h2v1h-2zM280 202h4v1h-4zM376 202h2v1h-2zM564 202h4v1h-4zM571 202h4v1h-4zM594 202h2v1h-2zM615 202h2v1h-2zM619 202h4v1h-4zM654 202h3v1h-3zM660 202h4v1h-4zM698 202h2v1h-2zM715 202h2v1h-2zM792 202h4v1h-4zM889 202h4v1h-4zM940 202h2v1h-2zM88 201h1v1h-1zM225 201h1v1h-1zM243 201h1v1h-1zM246 201h1v1h-1zM260 201h2v1h-2zM278 201h2v1h-2zM378 201h2v1h-2zM561 201h3v1h-3zM575 201h9v1h-9zM592 201h2v1h-2zM617 201h2v1h-2zM657 201h3v1h-3zM700 201h15v1h-15zM796 201h9v1h-9zM859 201h30v1h-30zM942 201h1v1h-1zM88 200h1v1h-1zM224 200h1v1h-1zM243 200h1v1h-1zM245 200h1v1h-1zM262 200h2v1h-2zM276 200h2v1h-2zM380 200h2v1h-2zM557 200h4v1h-4zM584 200h4v1h-4zM590 200h2v1h-2zM805 200h2v1h-2zM857 200h2v1h-2zM88 199h1v1h-1zM223 199h1v1h-1zM244 199h1v1h-1zM264 199h2v1h-2zM274 199h2v1h-2zM382 199h15v1h-15zM519 199h38v1h-38zM588 199h2v1h-2zM807 199h2v1h-2zM823 199h3v1h-3zM844 199h3v1h-3zM855 199h2v1h-2zM88 198h1v1h-1zM221 198h2v1h-2zM266 198h4v1h-4zM272 198h2v1h-2zM397 198h2v1h-2zM515 198h4v1h-4zM809 198h2v1h-2zM820 198h3v1h-3zM826 198h4v1h-4zM840 198h4v1h-4zM847 198h4v1h-4zM853 198h2v1h-2zM89 197h1v1h-1zM209 197h2v1h-2zM219 197h2v1h-2zM270 197h2v1h-2zM399 197h2v1h-2zM457 197h3v1h-3zM471 197h10v1h-10zM505 197h10v1h-10zM811 197h9v1h-9zM830 197h10v1h-10zM851 197h2v1h-2zM89 196h1v1h-1zM208 196h1v1h-1zM211 196h4v1h-4zM217 196h2v1h-2zM401 196h2v1h-2zM453 196h4v1h-4zM460 196h4v1h-4zM467 196h4v1h-4zM481 196h4v1h-4zM501 196h4v1h-4zM89 195h1v1h-1zM207 195h1v1h-1zM215 195h2v1h-2zM403 195h2v1h-2zM436 195h3v1h-3zM450 195h3v1h-3zM464 195h3v1h-3zM485 195h16v1h-16zM90 194h1v1h-1zM206 194h1v1h-1zM405 194h4v1h-4zM432 194h4v1h-4zM439 194h4v1h-4zM446 194h4v1h-4zM90 193h1v1h-1zM195 193h1v1h-1zM206 193h1v1h-1zM409 193h3v1h-3zM429 193h3v1h-3zM443 193h3v1h-3zM90 192h1v1h-1zM194 192h1v1h-1zM196 192h2v1h-2zM205 192h1v1h-1zM412 192h3v1h-3zM425 192h4v1h-4zM90 191h1v1h-1zM193 191h1v1h-1zM198 191h2v1h-2zM204 191h1v1h-1zM415 191h10v1h-10zM91 190h1v1h-1zM191 190h2v1h-2zM200 190h2v1h-2zM203 190h1v1h-1zM91 189h1v1h-1zM190 189h1v1h-1zM202 189h1v1h-1zM91 188h1v1h-1zM189 188h1v1h-1zM91 187h1v1h-1zM181 187h8v1h-8zM92 186h1v1h-1zM180 186h1v1h-1zM92 185h1v1h-1zM167 185h1v1h-1zM179 185h1v1h-1zM92 184h1v1h-1zM167 184h3v1h-3zM177 184h2v1h-2zM92 183h1v1h-1zM167 183h1v1h-1zM170 183h2v1h-2zM176 183h1v1h-1zM92 182h1v1h-1zM166 182h1v1h-1zM172 182h2v1h-2zM175 182h1v1h-1zM93 181h1v1h-1zM166 181h1v1h-1zM174 181h1v1h-1zM93 180h1v1h-1zM166 180h1v1h-1zM93 179h1v1h-1zM166 179h1v1h-1zM93 178h1v1h-1zM166 178h1v1h-1zM93 177h1v1h-1zM165 177h1v1h-1zM94 176h1v1h-1zM165 176h1v1h-1zM94 175h1v1h-1zM165 175h1v1h-1zM94 174h1v1h-1zM165 174h1v1h-1zM94 173h1v1h-1zM164 173h1v1h-1zM95 172h1v1h-1zM164 172h1v1h-1zM95 171h1v1h-1zM119 171h1v1h-1zM164 171h1v1h-1zM95 170h1v1h-1zM119 170h2v1h-2zM164 170h1v1h-1zM95 169h1v1h-1zM119 169h2v1h-2zM164 169h1v1h-1zM95 168h1v1h-1zM119 168h1v1h-1zM121 168h1v1h-1zM163 168h1v1h-1zM96 167h1v1h-1zM118 167h1v1h-1zM121 167h1v1h-1zM163 167h1v1h-1zM96 166h1v1h-1zM118 166h1v1h-1zM122 166h1v1h-1zM163 166h1v1h-1zM96 165h1v1h-1zM118 165h1v1h-1zM122 165h1v1h-1zM163 165h1v1h-1zM96 164h1v1h-1zM118 164h1v1h-1zM123 164h1v1h-1zM163 164h1v1h-1zM96 163h1v1h-1zM118 163h1v1h-1zM123 163h1v1h-1zM162 163h1v1h-1zM97 162h1v1h-1zM118 162h1v1h-1zM124 162h1v1h-1zM162 162h1v1h-1zM97 161h1v1h-1zM117 161h1v1h-1zM124 161h1v1h-1zM154 161h1v1h-1zM162 161h1v1h-1zM97 160h1v1h-1zM117 160h1v1h-1zM125 160h1v1h-1zM153 160h1v1h-1zM155 160h2v1h-2zM162 160h1v1h-1zM97 159h1v1h-1zM117 159h1v1h-1zM125 159h1v1h-1zM153 159h1v1h-1zM157 159h2v1h-2zM161 159h1v1h-1zM97 158h1v1h-1zM117 158h1v1h-1zM126 158h1v1h-1zM152 158h1v1h-1zM159 158h3v1h-3zM98 157h1v1h-1zM117 157h1v1h-1zM126 157h1v1h-1zM152 157h1v1h-1zM161 157h1v1h-1zM98 156h1v1h-1zM117 156h1v1h-1zM127 156h1v1h-1zM151 156h1v1h-1zM98 155h1v1h-1zM117 155h1v1h-1zM127 155h1v1h-1zM151 155h1v1h-1zM98 154h1v1h-1zM116 154h1v1h-1zM128 154h1v1h-1zM150 154h1v1h-1zM99 153h1v1h-1zM116 153h1v1h-1zM128 153h1v1h-1zM149 153h1v1h-1zM99 152h1v1h-1zM116 152h1v1h-1zM129 152h1v1h-1zM149 152h1v1h-1zM99 151h1v1h-1zM116 151h1v1h-1zM130 151h1v1h-1zM148 151h1v1h-1zM99 150h1v1h-1zM116 150h1v1h-1zM130 150h1v1h-1zM148 150h1v1h-1zM100 149h1v1h-1zM116 149h1v1h-1zM131 149h1v1h-1zM147 149h1v1h-1zM100 148h1v1h-1zM116 148h1v1h-1zM131 148h1v1h-1zM146 148h1v1h-1zM100 147h1v1h-1zM115 147h1v1h-1zM132 147h1v1h-1zM146 147h1v1h-1zM100 146h1v1h-1zM115 146h1v1h-1zM132 146h1v1h-1zM145 146h1v1h-1zM101 145h1v1h-1zM115 145h1v1h-1zM133 145h1v1h-1zM144 145h1v1h-1zM101 144h1v1h-1zM115 144h1v1h-1zM134 144h1v1h-1zM144 144h1v1h-1zM101 143h1v1h-1zM115 143h1v1h-1zM135 143h1v1h-1zM143 143h1v1h-1zM101 142h1v1h-1zM115 142h1v1h-1zM136 142h2v1h-2zM142 142h1v1h-1zM102 141h1v1h-1zM114 141h1v1h-1zM138 141h1v1h-1zM141 141h1v1h-1zM102 140h1v1h-1zM114 140h1v1h-1zM139 140h1v1h-1zM141 140h1v1h-1zM102 139h1v1h-1zM114 139h1v1h-1zM140 139h1v1h-1zM102 138h1v1h-1zM114 138h1v1h-1zM103 137h1v1h-1zM114 137h1v1h-1zM103 136h1v1h-1zM114 136h1v1h-1zM103 135h1v1h-1zM114 135h1v1h-1zM103 134h1v1h-1zM113 134h1v1h-1zM104 133h1v1h-1zM113 133h1v1h-1zM104 132h1v1h-1zM113 132h1v1h-1zM104 131h1v1h-1zM113 131h1v1h-1zM104 130h1v1h-1zM113 130h1v1h-1zM105 129h1v1h-1zM113 129h1v1h-1zM105 128h1v1h-1zM112 128h1v1h-1zM105 127h2v1h-2zM112 127h1v1h-1zM107 126h4v1h-4zM112 126h1v1h-1zM111 125h2v1h-2z"/>
<path fill="#0000c8" d="M56 408h3v1h-3zM63 406h3v1h-3zM375 149h1v1h-1zM376 148h2v1h-2zM50 410h2v1h-2zM93 397h4v1h-4zM331 280h1v1h-1zM52 409h4v1h-4zM59 407h4v1h-4zM66 405h4v1h-4zM70 404h3v1h-3zM73 403h4v1h-4zM77 402h3v1h-3zM80 401h3v1h-3zM83 400h3v1h-3zM86 399h4v1h-4zM90 398h3v1h-3zM97 396h2v1h-2zM99 395h2v1h-2zM101 394h2v1h-2zM103 393h2v1h-2zM105 392h9v1h-9zM114 391h4v1h-4zM118 390h2v1h-2zM120 389h2v1h-2zM122 388h2v1h-2zM124 387h2v1h-2zM126 386h2v1h-2zM128 385h4v1h-4zM132 384h3v1h-3zM135 383h4v1h-4zM139 382h3v1h-3zM142 381h4v1h-4zM146 380h3v1h-3zM149 379h4v1h-4zM153 378h10v1h-10zM163 377h3v1h-3zM166 376h2v1h-2zM168 375h1v1h-1zM168 374h1v1h-1zM169 373h1v1h-1zM170 372h1v1h-1zM171 371h1v1h-1zM171 370h1v1h-1zM172 369h1v1h-1zM173 368h1v1h-1zM173 367h1v1h-1zM174 366h2v1h-2zM176 365h4v1h-4zM180 364h3v1h-3zM183 363h4v1h-4zM187 362h3v1h-3zM190 361h4v1h-4zM194 360h10v1h-10zM204 359h4v1h-4zM208 358h3v1h-3zM211 357h4v1h-4zM215 356h3v1h-3zM218 355h4v1h-4zM222 354h10v1h-10zM232 353h4v1h-4zM236 352h2v1h-2zM238 351h2v1h-2zM240 350h2v1h-2zM242 349h2v1h-2zM244 348h8v1h-8zM252 347h4v1h-4zM256 346h3v1h-3zM259 345h4v1h-4zM263 344h3v1h-3zM266 343h4v1h-4zM270 342h10v1h-10zM280 341h4v1h-4zM284 340h3v1h-3zM287 339h4v1h-4zM291 338h3v1h-3zM294 337h4v1h-4zM298 336h9v1h-9zM307 335h2v1h-2zM309 334h2v1h-2zM311 333h2v1h-2zM313 332h1v1h-1zM313 331h1v1h-1zM314 330h1v1h-1zM314 329h1v1h-1zM314 328h1v1h-1zM315 327h1v1h-1zM315 326h1v1h-1zM315 325h1v1h-1zM316 324h1v1h-1zM316 323h1v1h-1zM317 322h1v1h-1zM317 321h1v1h-1zM317 320h1v1h-1zM318 319h1v1h-1zM318 318h1v1h-1zM318 317h1v1h-1zM319 316h1v1h-1zM319 315h1v1h-1zM319 314h1v1h-1zM320 313h1v1h-1zM320 312h1v1h-1zM320 311h1v1h-1zM321 310h1v1h-1zM321 309h1v1h-1zM321 308h1v1h-1zM322 307h1v1h-1zM322 306h1v1h-1zM322 305h1v1h-1zM323 304h1v1h-1zM323 303h1v1h-1zM324 302h1v1h-1zM324 301h1v1h-1zM324 300h1v1h-1zM325 299h1v1h-1zM325 298h1v1h-1zM325 297h1v1h-1zM326 296h1v1h-1zM326 295h1v1h-1zM326 294h1v1h-1zM327 293h1v1h-1zM327 292h1v1h-1zM327 291h1v1h-1zM328 290h1v1h-1zM328 289h1v1h-1zM328 288h1v1h-1zM328 287h1v1h-1zM329 286h1v1h-1zM329 285h1v1h-1zM329 284h1v1h-1zM330 283h1v1h-1zM330 282h1v1h-1zM330 281h1v1h-1zM331 279h1v1h-1zM331 278h1v1h-1zM331 277h1v1h-1zM332 276h1v1h-1zM332 275h1v1h-1zM332 274h1v1h-1zM333 273h1v1h-1zM333 272h1v1h-1zM333 271h1v1h-1zM333 270h1v1h-1zM334 269h1v1h-1zM334 268h1v1h-1zM334 267h1v1h-1zM335 266h1v1h-1zM335 265h1v1h-1zM335 264h1v1h-1zM336 263h1v1h-1zM336 262h1v1h-1zM336 261h1v1h-1zM337 260h1v1h-1zM337 259h1v1h-1zM337 258h1v1h-1zM338 257h1v1h-1zM338 256h1v1h-1zM338 255h1v1h-1zM339 254h1v1h-1zM339 253h1v1h-1zM339 252h1v1h-1zM340 251h1v1h-1zM340 250h1v1h-1zM340 249h1v1h-1zM341 248h1v1h-1zM341 247h1v1h-1zM342 246h1v1h-1zM342 245h1v1h-1zM343 244h1v1h-1zM343 243h1v1h-1zM344 242h1v1h-1zM344 241h1v1h-1zM344 240h1v1h-1zM345 239h1v1h-1zM345 238h1v1h-1zM346 237h1v1h-1zM346 236h1v1h-1zM347 235h1v1h-1zM347 234h1v1h-1zM347 233h1v1h-1zM348 232h1v1h-1zM348 231h1v1h-1zM348 230h1v1h-1zM349 229h1v1h-1zM349 228h1v1h-1zM349 227h1v1h-1zM350 226h1v1h-1zM350 225h1v1h-1zM350 224h1v1h-1zM351 223h1v1h-1zM351 222h1v1h-1zM351 221h1v1h-1zM351 220h1v1h-1zM352 219h1v1h-1zM352 218h1v1h-1zM352 217h1v1h-1zM353 216h1v1h-1zM353 215h1v1h-1zM353 214h1v1h-1zM354 213h1v1h-1zM354 212h1v1h-1zM354 211h1v1h-1zM355 210h1v1h-1zM355 209h1v1h-1zM355 208h1v1h-1zM356 207h1v1h-1zM356 206h1v1h-1zM356 205h1v1h-1zM357 204h1v1h-1zM357 203h1v1h-1zM357 202h1v1h-1zM358 201h1v1h-1zM358 200h1v1h-1zM358 199h1v1h-1zM359 198h1v1h-1zM359 197h1v1h-1zM359 196h1v1h-1zM360 195h1v1h-1zM360 194h1v1h-1zM360 193h1v1h-1zM361 192h1v1h-1zM361 191h1v1h-1zM361 190h1v1h-1zM362 189h1v1h-1zM362 188h1v1h-1zM362 187h1v1h-1zM363 186h1v1h-1zM363 185h1v1h-1zM363 184h1v1h-1zM364 183h1v1h-1zM364 182h1v1h-1zM365 181h1v1h-1zM365 180h1v1h-1zM365 179h1v1h-1zM366 178h1v1h-1zM366 177h1v1h-1zM366 176h1v1h-1zM367 175h1v1h-1zM367 174h1v1h-1zM367 173h1v1h-1zM368 172h1v1h-1zM368 171h1v1h-1zM368 170h1v1h-1zM369 169h1v1h-1zM369 168h1v1h-1zM369 167h1v1h-1zM370 166h1v1h-1zM370 165h1v1h-1zM370 164h1v1h-1zM371 163h1v1h-1zM371 162h1v1h-1zM371 161h1v1h-1zM372 160h1v1h-1zM372 159h1v1h-1zM372 158h1v1h-1zM372 157h1v1h-1zM373 156h1v1h-1zM373 155h1v1h-1zM373 154h1v1h-1zM374 153h1v1h-1zM374 152h1v1h-1zM374 151h1v1h-1zM375 150h1v1h-1zM378 147h2v1h-2zM380 146h2v1h-2zM382 145h1v1h-1zM383 144h2v1h-2zM385 143h2v1h-2zM387 142h2v1h-2zM389 141h9v1h-9zM398 140h4v1h-4zM402 139h3v1h-3zM405 138h4v1h-4zM409 137h3v1h-3zM412 136h3v1h-3zM415 135h10v1h-10zM425 134h4v1h-4zM429 133h3v1h-3zM432 132h4v1h-4zM436 131h3v1h-3zM439 130h4v1h-4zM443 129h17v1h-17zM460 128h4v1h-4zM464 127h3v1h-3zM467 126h4v1h-4zM471 125h3v1h-3zM474 124h4v1h-4zM478 123h10v1h-10zM488 122h4v1h-4zM492 121h3v1h-3zM495 120h3v1h-3zM498 119h3v1h-3zM501 118h4v1h-4zM505 117h3v1h-3zM508 116h4v1h-4zM512 115h3v1h-3zM515 114h4v1h-4zM519 113h2v1h-2zM521 112h2v1h-2zM523 111h2v1h-2zM525 110h2v1h-2zM527 109h8v1h-8zM535 108h2v1h-2zM537 107h2v1h-2zM539 106h2v1h-2zM541 105h2v1h-2zM543 104h4v1h-4zM547 103h3v1h-3zM550 102h4v1h-4zM554 101h3v1h-3zM557 100h4v1h-4zM561 99h3v1h-3zM564 98h4v1h-4zM568 97h3v1h-3zM571 96h4v1h-4zM575 95h2v1h-2zM577 94h2v1h-2zM579 93h1v1h-1zM580 92h2v1h-2zM582 91h8v1h-8zM590 90h2v1h-2zM592 89h2v1h-2zM594 88h2v1h-2zM596 87h2v1h-2zM598 86h4v1h-4zM602 85h10v1h-10zM612 84h4v1h-4zM616 83h3v1h-3zM619 82h4v1h-4zM623 81h3v1h-3zM626 80h4v1h-4zM630 79h10v1h-10zM640 78h4v1h-4zM644 77h3v1h-3zM647 76h4v1h-4zM651 75h3v1h-3zM654 74h3v1h-3zM657 73h17v1h-17zM674 72h4v1h-4zM678 71h3v1h-3zM681 70h4v1h-4zM685 69h3v1h-3zM688 68h4v1h-4zM692 67h10v1h-10zM702 66h4v1h-4zM706 65h3v1h-3zM709 64h4v1h-4zM713 63h3v1h-3zM716 62h4v1h-4zM720 61h3v1h-3zM723 60h4v1h-4zM727 59h10v1h-10zM737 58h4v1h-4zM741 57h3v1h-3zM744 56h3v1h-3zM747 55h3v1h-3zM750 54h4v1h-4zM754 53h10v1h-10zM764 52h4v1h-4zM768 51h3v1h-3zM771 50h4v1h-4zM775 49h3v1h-3zM778 48h4v1h-4zM782 47h10v1h-10zM792 46h4v1h-4zM796 45h3v1h-3zM799 44h4v1h-4zM803 43h3v1h-3zM806 42h4v1h-4zM810 41h10v1h-10zM820 40h3v1h-3zM823 39h3v1h-3zM826 38h4v1h-4zM830 37h3v1h-3zM833 36h4v1h-4zM837 35h10v1h-10zM847 34h4v1h-4zM851 33h3v1h-3zM854 32h4v1h-4zM858 31h3v1h-3zM861 30h4v1h-4zM865 29h10v1h-10zM875 28h4v1h-4zM879 27h3v1h-3zM882 26h4v1h-4zM886 25h3v1h-3zM889 24h4v1h-4zM893 23h3v1h-3zM896 22h4v1h-4zM900 21h3v1h-3zM903 20h3v1h-3zM906 19h3v1h-3zM909 18h4v1h-4zM913 17h10v1h-10zM923 16h4v1h-4zM927 15h3v1h-3zM930 14h4v1h-4zM934 13h2v1h-2zM936 12h2v1h-2zM938 11h2v1h-2zM940 10h2v1h-2zM942 9h1v1h-1z"/>
<path fill="#c80000" d="M52 410h40v1h-40zM50 9h1v1h-1zM84 9h64v1h-64zM50 10h1v1h-1zM84 10h1v1h-1zM148 10h2v1h-2zM50 11h1v1h-1zM84 11h1v1h-1zM150 11h2v1h-2zM160 11h2v1h-2zM51 12h1v1h-1zM84 12h1v1h-1zM152 12h2v1h-2zM156 12h4v1h-4zM161 12h1v1h-1zM51 13h1v1h-1zM84 13h1v1h-1zM154 13h2v1h-2zM161 13h1v1h-1zM51 14h1v1h-1zM84 14h1v1h-1zM162 14h1v1h-1zM51 15h1v1h-1zM83 15h1v1h-1zM162 15h1v1h-1zM52 16h1v1h-1zM83 16h1v1h-1zM162 16h1v1h-1zM52 17h1v1h-1zM83 17h1v1h-1zM162 17h1v1h-1zM52 18h1v1h-1zM83 18h1v1h-1zM162 18h1v1h-1zM52 19h1v1h-1zM83 19h1v1h-1zM163 19h1v1h-1zM52 20h1v1h-1zM83 20h1v1h-1zM163 20h1v1h-1zM53 21h1v1h-1zM83 21h1v1h-1zM163 21h1v1h-1zM53 22h1v1h-1zM83 22h1v1h-1zM163 22h1v1h-1zM53 23h1v1h-1zM83 23h1v1h-1zM163 23h1v1h-1zM53 24h1v1h-1zM83 24h1v1h-1zM164 24h1v1h-1zM54 25h1v1h-1zM83 25h1v1h-1zM164 25h1v1h-1zM54 26h1v1h-1zM83 26h1v1h-1zM164 26h1v1h-1zM54 27h1v1h-1zM82 27h1v1h-1zM164 27h1v1h-1zM54 28h1v1h-1zM82 28h1v1h-1zM164 28h1v1h-1zM54 29h1v1h-1zM82 29h1v1h-1zM165 29h1v1h-1zM55 30h1v1h-1zM82 30h1v1h-1zM165 30h1v1h-1zM55 31h1v1h-1zM82 31h1v1h-1zM165 31h1v1h-1zM55 32h1v1h-1zM82 32h1v1h-1zM165 32h1v1h-1zM55 33h1v1h-1zM82 33h1v1h-1zM165 33h1v1h-1zM55 34h1v1h-1zM82 34h1v1h-1zM166 34h1v1h-1zM56 35h1v1h-1zM82 35h1v1h-1zM166 35h1v1h-1zM56 36h1v1h-1zM82 36h1v1h-1zM166 36h1v1h-1zM56 37h1v1h-1zM82 37h1v1h-1zM166 37h1v1h-1zM56 38h1v1h-1zM81 38h1v1h-1zM166 38h1v1h-1zM57 39h1v1h-1zM81 39h1v1h-1zM167 39h1v1h-1zM57 40h1v1h-1zM81 40h1v1h-1zM167 40h1v1h-1zM57 41h1v1h-1zM81 41h1v1h-1zM167 41h1v1h-1zM57 42h1v1h-1zM81 42h1v1h-1zM167 42h1v1h-1zM57 43h1v1h-1zM81 43h1v1h-1zM168 43h1v1h-1zM57 44h1v1h-1zM81 44h1v1h-1zM168 44h1v1h-1zM58 45h1v1h-1zM81 45h1v1h-1zM169 45h1v1h-1zM58 46h1v1h-1zM81 46h1v1h-1zM169 46h1v1h-1zM58 47h1v1h-1zM81 47h1v1h-1zM170 47h1v1h-1zM58 48h1v1h-1zM81 48h1v1h-1zM170 48h1v1h-1zM58 49h1v1h-1zM80 49h1v1h-1zM171 49h1v1h-1zM58 50h1v1h-1zM80 50h1v1h-1zM171 50h1v1h-1zM58 51h1v1h-1zM80 51h1v1h-1zM171 51h1v1h-1zM58 52h1v1h-1zM80 52h1v1h-1zM172 52h1v1h-1zM59 53h1v1h-1zM80 53h1v1h-1zM172 53h1v1h-1zM59 54h1v1h-1zM80 54h1v1h-1zM173 54h1v1h-1zM59 55h1v1h-1zM80 55h1v1h-1zM173 55h1v1h-1zM59 56h1v1h-1zM80 56h1v1h-1zM174 56h1v1h-1zM59 57h1v1h-1zM80 57h1v1h-1zM174 57h1v1h-1zM59 58h1v1h-1zM80 58h1v1h-1zM175 58h1v1h-1zM59 59h1v1h-1zM80 59h1v1h-1zM176 59h1v1h-1zM59 60h1v1h-1zM80 60h1v1h-1zM177 60h1v1h-1zM60 61h1v1h-1zM79 61h1v1h-1zM178 61h1v1h-1zM60 62h1v1h-1zM79 62h1v1h-1zM178 62h1v1h-1zM60 63h1v1h-1zM79 63h1v1h-1zM179 63h1v1h-1zM60 64h1v1h-1zM79 64h1v1h-1zM180 64h1v1h-1zM60 65h1v1h-1zM79 65h1v1h-1zM181 65h2v1h-2zM60 66h1v1h-1zM79 66h1v1h-1zM183 66h4v1h-4zM60 67h1v1h-1zM79 67h1v1h-1zM187 67h2v1h-2zM60 68h1v1h-1zM79 68h1v1h-1zM189 68h1v1h-1zM61 69h1v1h-1zM71 69h1v1h-1zM79 69h1v1h-1zM190 69h1v1h-1zM61 70h1v1h-1zM71 70h2v1h-2zM79 70h1v1h-1zM191 70h1v1h-1zM61 71h1v1h-1zM71 71h1v1h-1zM73 71h1v1h-1zM79 71h1v1h-1zM192 71h1v1h-1zM61 72h1v1h-1zM70 72h1v1h-1zM74 72h1v1h-1zM78 72h1v1h-1zM192 72h1v1h-1zM61 73h1v1h-1zM70 73h1v1h-1zM75 73h1v1h-1zM78 73h1v1h-1zM193 73h1v1h-1zM201 73h2v1h-2zM61 74h1v1h-1zM70 74h1v1h-1zM75 74h1v1h-1zM78 74h1v1h-1zM194 74h1v1h-1zM197 74h4v1h-4zM203 74h1v1h-1zM61 75h1v1h-1zM70 75h1v1h-1zM76 75h1v1h-1zM78 75h1v1h-1zM195 75h2v1h-2zM203 75h1v1h-1zM61 76h1v1h-1zM69 76h1v1h-1zM77 76h2v1h-2zM204 76h1v1h-1zM62 77h1v1h-1zM69 77h1v1h-1zM78 77h1v1h-1zM205 77h1v1h-1zM62 78h1v1h-1zM69 78h1v1h-1zM206 78h1v1h-1zM62 79h1v1h-1zM69 79h1v1h-1zM206 79h1v1h-1zM62 80h1v1h-1zM68 80h1v1h-1zM207 80h1v1h-1zM62 81h1v1h-1zM68 81h1v1h-1zM208 81h1v1h-1zM62 82h1v1h-1zM68 82h1v1h-1zM208 82h1v1h-1zM62 83h1v1h-1zM68 83h1v1h-1zM209 83h8v1h-8zM62 84h1v1h-1zM67 84h1v1h-1zM217 84h1v1h-1zM63 85h1v1h-1zM67 85h1v1h-1zM218 85h1v1h-1zM63 86h1v1h-1zM67 86h1v1h-1zM219 86h2v1h-2zM63 87h1v1h-1zM67 87h1v1h-1zM221 87h1v1h-1zM63 88h1v1h-1zM66 88h1v1h-1zM222 88h1v1h-1zM63 89h1v1h-1zM66 89h1v1h-1zM223 89h1v1h-1zM63 90h1v1h-1zM66 90h1v1h-1zM224 90h1v1h-1zM63 91h1v1h-1zM66 91h1v1h-1zM225 91h1v1h-1zM63 92h1v1h-1zM65 92h1v1h-1zM226 92h2v1h-2zM64 93h2v1h-2zM228 93h1v1h-1zM244 93h1v1h-1zM64 94h2v1h-2zM229 94h1v1h-1zM243 94h1v1h-1zM245 94h1v1h-1zM64 95h2v1h-2zM230 95h1v1h-1zM243 95h1v1h-1zM246 95h1v1h-1zM64 96h1v1h-1zM231 96h1v1h-1zM242 96h1v1h-1zM246 96h1v1h-1zM64 97h1v1h-1zM232 97h1v1h-1zM241 97h1v1h-1zM247 97h1v1h-1zM264 97h8v1h-8zM233 98h1v1h-1zM241 98h1v1h-1zM248 98h1v1h-1zM262 98h2v1h-2zM272 98h2v1h-2zM234 99h1v1h-1zM240 99h1v1h-1zM249 99h1v1h-1zM260 99h2v1h-2zM274 99h2v1h-2zM234 100h1v1h-1zM239 100h1v1h-1zM249 100h1v1h-1zM258 100h2v1h-2zM276 100h2v1h-2zM235 101h1v1h-1zM238 101h1v1h-1zM250 101h8v1h-8zM278 101h1v1h-1zM236 102h1v1h-1zM238 102h1v1h-1zM279 102h2v1h-2zM237 103h1v1h-1zM281 103h2v1h-2zM283 104h2v1h-2zM285 105h9v1h-9zM294 106h4v1h-4zM298 107h2v1h-2zM300 108h1v1h-1zM300 109h1v1h-1zM301 110h1v1h-1zM302 111h1v1h-1zM303 112h1v1h-1zM303 113h1v1h-1zM304 114h1v1h-1zM305 115h1v1h-1zM305 116h1v1h-1zM306 117h1v1h-1zM307 118h1v1h-1zM308 119h1v1h-1zM309 120h1v1h-1zM310 121h1v1h-1zM310 122h1v1h-1zM311 123h1v1h-1zM312 124h1v1h-1zM313 125h9v1h-9zM322 126h4v1h-4zM326 127h2v1h-2zM328 128h1v1h-1zM328 129h1v1h-1zM329 130h1v1h-1zM329 131h1v1h-1zM330 132h1v1h-1zM330 133h1v1h-1zM331 134h1v1h-1zM331 135h1v1h-1zM332 136h1v1h-1zM332 137h1v1h-1zM333 138h1v1h-1zM333 139h1v1h-1zM415 139h10v1h-10zM334 140h1v1h-1zM412 140h3v1h-3zM425 140h4v1h-4zM334 141h1v1h-1zM347 141h1v1h-1zM409 141h3v1h-3zM429 141h3v1h-3zM443 141h3v1h-3zM335 142h1v1h-1zM346 142h1v1h-1zM348 142h1v1h-1zM405 142h4v1h-4zM432 142h4v1h-4zM439 142h4v1h-4zM446 142h4v1h-4zM336 143h1v1h-1zM345 143h1v1h-1zM348 143h1v1h-1zM403 143h2v1h-2zM436 143h3v1h-3zM450 143h3v1h-3zM464 143h2v1h-2zM336 144h1v1h-1zM344 144h1v1h-1zM349 144h1v1h-1zM401 144h2v1h-2zM453 144h4v1h-4zM460 144h4v1h-4zM466 144h2v1h-2zM337 145h1v1h-1zM344 145h1v1h-1zM349 145h1v1h-1zM399 145h2v1h-2zM457 145h3v1h-3zM468 145h2v1h-2zM485 145h16v1h-16zM338 146h1v1h-1zM343 146h1v1h-1zM350 146h1v1h-1zM397 146h2v1h-2zM470 146h2v1h-2zM481 146h4v1h-4zM501 146h4v1h-4zM339 147h1v1h-1zM342 147h1v1h-1zM351 147h1v1h-1zM381 147h16v1h-16zM472 147h9v1h-9zM505 147h10v1h-10zM339 148h1v1h-1zM341 148h1v1h-1zM351 148h1v1h-1zM378 148h3v1h-3zM515 148h4v1h-4zM340 149h1v1h-1zM352 149h1v1h-1zM376 149h1v1h-1zM519 149h31v1h-31zM352 150h1v1h-1zM374 150h1v1h-1zM550 150h4v1h-4zM353 151h1v1h-1zM373 151h1v1h-1zM554 151h3v1h-3zM588 151h2v1h-2zM353 152h1v1h-1zM372 152h1v1h-1zM557 152h4v1h-4zM584 152h4v1h-4zM590 152h2v1h-2zM354 153h1v1h-1zM372 153h1v1h-1zM561 153h3v1h-3zM575 153h9v1h-9zM592 153h2v1h-2zM617 153h2v1h-2zM355 154h2v1h-2zM371 154h1v1h-1zM564 154h4v1h-4zM571 154h4v1h-4zM594 154h2v1h-2zM615 154h2v1h-2zM619 154h4v1h-4zM357 155h2v1h-2zM370 155h1v1h-1zM568 155h3v1h-3zM596 155h9v1h-9zM613 155h2v1h-2zM623 155h10v1h-10zM644 155h3v1h-3zM657 155h3v1h-3zM811 155h9v1h-9zM830 155h10v1h-10zM851 155h2v1h-2zM359 156h2v1h-2zM369 156h1v1h-1zM605 156h4v1h-4zM611 156h2v1h-2zM633 156h4v1h-4zM640 156h4v1h-4zM647 156h4v1h-4zM654 156h3v1h-3zM660 156h4v1h-4zM809 156h2v1h-2zM820 156h3v1h-3zM826 156h4v1h-4zM840 156h4v1h-4zM847 156h4v1h-4zM853 156h2v1h-2zM361 157h8v1h-8zM609 157h2v1h-2zM637 157h3v1h-3zM651 157h3v1h-3zM664 157h17v1h-17zM699 157h16v1h-16zM807 157h2v1h-2zM823 157h3v1h-3zM844 157h3v1h-3zM855 157h2v1h-2zM681 158h4v1h-4zM695 158h4v1h-4zM715 158h2v1h-2zM805 158h2v1h-2zM857 158h2v1h-2zM685 159h10v1h-10zM717 159h2v1h-2zM789 159h16v1h-16zM859 159h30v1h-30zM719 160h2v1h-2zM785 160h4v1h-4zM889 160h4v1h-4zM721 161h15v1h-15zM783 161h2v1h-2zM893 161h2v1h-2zM913 161h9v1h-9zM942 161h1v1h-1zM736 162h2v1h-2zM781 162h2v1h-2zM895 162h2v1h-2zM909 162h4v1h-4zM922 162h2v1h-2zM940 162h2v1h-2zM738 163h2v1h-2zM754 163h10v1h-10zM779 163h2v1h-2zM897 163h2v1h-2zM906 163h3v1h-3zM924 163h2v1h-2zM938 163h2v1h-2zM740 164h2v1h-2zM750 164h4v1h-4zM764 164h4v1h-4zM777 164h2v1h-2zM899 164h2v1h-2zM903 164h3v1h-3zM926 164h2v1h-2zM936 164h2v1h-2zM742 165h8v1h-8zM768 165h9v1h-9zM901 165h2v1h-2zM928 165h8v1h-8zM91 409h1v1h-1zM91 408h1v1h-1zM92 407h1v1h-1zM92 406h1v1h-1zM92 405h1v1h-1zM92 404h1v1h-1zM92 403h1v1h-1zM92 402h1v1h-1zM93 401h1v1h-1zM93 400h1v1h-1zM93 399h1v1h-1zM93 398h1v1h-1zM93 396h1v1h-1zM94 395h1v1h-1zM94 394h1v1h-1zM94 393h1v1h-1zM94 392h1v1h-1zM94 391h1v1h-1zM94 390h1v1h-1zM95 389h1v1h-1zM95 388h1v1h-1zM95 387h1v1h-1zM95 386h1v1h-1zM95 385h1v1h-1zM95 384h1v1h-1zM96 383h1v1h-1zM96 382h1v1h-1zM96 381h1v1h-1zM96 380h1v1h-1zM96 379h1v1h-1zM96 378h1v1h-1zM97 377h1v1h-1zM97 376h1v1h-1zM97 375h1v1h-1zM97 374h1v1h-1zM97 373h1v1h-1zM97 372h1v1h-1zM98 371h1v1h-1zM98 370h1v1h-1zM98 369h1v1h-1zM98 368h1v1h-1zM98 367h1v1h-1zM98 366h1v1h-1zM98 365h1v1h-1zM99 364h1v1h-1zM99 363h1v1h-1zM99 362h1v1h-1zM99 361h1v1h-1zM99 360h1v1h-1zM99 359h1v1h-1zM100 358h1v1h-1zM100 357h1v1h-1zM100 356h1v1h-1zM100 355h1v1h-1zM100 354h1v1h-1zM100 353h1v1h-1zM101 352h1v1h-1zM101 351h1v1h-1zM101 350h1v1h-1zM101 349h1v1h-1zM101 348h1v1h-1zM119 348h1v1h-1zM101 347h1v1h-1zM119 347h1v1h-1zM102 346h1v1h-1zM119 346h2v1h-2zM102 345h1v1h-1zM118 345h1v1h-1zM120 345h1v1h-1zM102 344h1v1h-1zM118 344h1v1h-1zM121 344h1v1h-1zM102 343h1v1h-1zM118 343h1v1h-1zM121 343h1v1h-1zM102 342h1v1h-1zM118 342h1v1h-1zM121 342h1v1h-1zM102 341h1v1h-1zM118 341h1v1h-1zM122 341h1v1h-1zM102 340h1v1h-1zM117 340h1v1h-1zM122 340h1v1h-1zM103 339h1v1h-1zM117 339h1v1h-1zM123 339h1v1h-1zM103 338h1v1h-1zM117 338h1v1h-1zM123 338h1v1h-1zM103 337h1v1h-1zM117 337h1v1h-1zM123 337h1v1h-1zM103 336h1v1h-1zM117 336h1v1h-1zM124 336h1v1h-1zM103 335h1v1h-1zM116 335h1v1h-1zM124 335h1v1h-1zM103 334h1v1h-1zM116 334h1v1h-1zM124 334h1v1h-1zM104 333h1v1h-1zM116 333h1v1h-1zM125 333h1v1h-1zM104 332h1v1h-1zM116 332h1v1h-1zM125 332h1v1h-1zM104 331h1v1h-1zM116 331h1v1h-1zM126 331h1v1h-1zM104 330h1v1h-1zM116 330h1v1h-1zM126 330h1v1h-1zM167 330h1v1h-1zM104 329h1v1h-1zM115 329h1v1h-1zM126 329h1v1h-1zM167 329h1v1h-1zM104 328h1v1h-1zM115 328h1v1h-1zM127 328h1v1h-1zM167 328h2v1h-2zM105 327h1v1h-1zM115 327h1v1h-1zM127 327h1v1h-1zM166 327h1v1h-1zM168 327h1v1h-1zM105 326h1v1h-1zM115 326h1v1h-1zM128 326h1v1h-1zM166 326h1v1h-1zM168 326h1v1h-1zM105 325h1v1h-1zM115 325h1v1h-1zM128 325h1v1h-1zM166 325h1v1h-1zM168 325h1v1h-1zM105 324h1v1h-1zM114 324h1v1h-1zM128 324h1v1h-1zM166 324h1v1h-1zM169 324h1v1h-1zM106 323h1v1h-1zM114 323h1v1h-1zM129 323h1v1h-1zM165 323h1v1h-1zM169 323h1v1h-1zM106 322h1v1h-1zM114 322h1v1h-1zM129 322h1v1h-1zM165 322h1v1h-1zM169 322h1v1h-1zM107 321h1v1h-1zM114 321h1v1h-1zM130 321h1v1h-1zM165 321h1v1h-1zM170 321h1v1h-1zM107 320h1v1h-1zM114 320h1v1h-1zM130 320h1v1h-1zM165 320h1v1h-1zM170 320h1v1h-1zM237 320h1v1h-1zM108 319h1v1h-1zM113 319h1v1h-1zM130 319h1v1h-1zM164 319h1v1h-1zM170 319h1v1h-1zM235 319h2v1h-2zM238 319h1v1h-1zM109 318h1v1h-1zM113 318h1v1h-1zM131 318h1v1h-1zM164 318h1v1h-1zM171 318h1v1h-1zM233 318h2v1h-2zM238 318h1v1h-1zM109 317h1v1h-1zM113 317h1v1h-1zM131 317h1v1h-1zM164 317h1v1h-1zM171 317h1v1h-1zM231 317h2v1h-2zM239 317h1v1h-1zM110 316h1v1h-1zM113 316h1v1h-1zM131 316h1v1h-1zM164 316h1v1h-1zM171 316h1v1h-1zM230 316h1v1h-1zM239 316h1v1h-1zM110 315h1v1h-1zM113 315h1v1h-1zM132 315h1v1h-1zM164 315h1v1h-1zM171 315h1v1h-1zM229 315h1v1h-1zM240 315h1v1h-1zM111 314h2v1h-2zM132 314h1v1h-1zM163 314h1v1h-1zM172 314h1v1h-1zM228 314h1v1h-1zM240 314h1v1h-1zM111 313h2v1h-2zM133 313h1v1h-1zM163 313h1v1h-1zM172 313h1v1h-1zM226 313h2v1h-2zM241 313h1v1h-1zM112 312h1v1h-1zM133 312h1v1h-1zM163 312h1v1h-1zM172 312h1v1h-1zM195 312h1v1h-1zM209 312h1v1h-1zM225 312h1v1h-1zM241 312h1v1h-1zM134 311h1v1h-1zM163 311h1v1h-1zM173 311h1v1h-1zM193 311h2v1h-2zM196 311h1v1h-1zM208 311h1v1h-1zM210 311h2v1h-2zM224 311h1v1h-1zM242 311h1v1h-1zM134 310h1v1h-1zM154 310h1v1h-1zM162 310h1v1h-1zM173 310h1v1h-1zM181 310h2v1h-2zM191 310h2v1h-2zM197 310h1v1h-1zM207 310h1v1h-1zM212 310h2v1h-2zM222 310h2v1h-2zM242 310h1v1h-1zM250 310h1v1h-1zM306 310h8v1h-8zM135 309h1v1h-1zM153 309h1v1h-1zM155 309h1v1h-1zM162 309h1v1h-1zM173 309h1v1h-1zM179 309h2v1h-2zM183 309h4v1h-4zM189 309h2v1h-2zM198 309h2v1h-2zM205 309h2v1h-2zM214 309h2v1h-2zM218 309h4v1h-4zM243 309h1v1h-1zM248 309h2v1h-2zM251 309h2v1h-2zM305 309h1v1h-1zM313 309h1v1h-1zM135 308h1v1h-1zM152 308h1v1h-1zM156 308h1v1h-1zM162 308h1v1h-1zM173 308h1v1h-1zM177 308h2v1h-2zM187 308h2v1h-2zM200 308h1v1h-1zM204 308h1v1h-1zM216 308h2v1h-2zM243 308h1v1h-1zM247 308h1v1h-1zM253 308h2v1h-2zM305 308h1v1h-1zM314 308h1v1h-1zM136 307h1v1h-1zM150 307h2v1h-2zM157 307h2v1h-2zM162 307h1v1h-1zM174 307h3v1h-3zM201 307h1v1h-1zM203 307h1v1h-1zM244 307h3v1h-3zM255 307h2v1h-2zM304 307h1v1h-1zM314 307h1v1h-1zM137 306h1v1h-1zM149 306h1v1h-1zM159 306h1v1h-1zM161 306h1v1h-1zM174 306h1v1h-1zM202 306h1v1h-1zM244 306h1v1h-1zM257 306h1v1h-1zM303 306h1v1h-1zM315 306h1v1h-1zM137 305h1v1h-1zM148 305h1v1h-1zM160 305h2v1h-2zM258 305h2v1h-2zM303 305h1v1h-1zM315 305h1v1h-1zM138 304h1v1h-1zM147 304h1v1h-1zM161 304h1v1h-1zM260 304h2v1h-2zM302 304h1v1h-1zM316 304h1v1h-1zM138 303h1v1h-1zM145 303h2v1h-2zM262 303h2v1h-2zM301 303h1v1h-1zM316 303h1v1h-1zM139 302h1v1h-1zM143 302h2v1h-2zM264 302h1v1h-1zM278 302h16v1h-16zM300 302h1v1h-1zM317 302h1v1h-1zM139 301h1v1h-1zM141 301h2v1h-2zM265 301h2v1h-2zM276 301h2v1h-2zM294 301h4v1h-4zM300 301h1v1h-1zM317 301h1v1h-1zM140 300h1v1h-1zM267 300h2v1h-2zM274 300h2v1h-2zM298 300h2v1h-2zM317 300h1v1h-1zM269 299h2v1h-2zM272 299h2v1h-2zM318 299h1v1h-1zM271 298h1v1h-1zM318 298h1v1h-1zM319 297h1v1h-1zM319 296h1v1h-1zM320 295h1v1h-1zM320 294h1v1h-1zM321 293h1v1h-1zM321 292h1v1h-1zM322 291h1v1h-1zM322 290h1v1h-1zM323 289h1v1h-1zM323 288h1v1h-1zM324 287h1v1h-1zM324 286h1v1h-1zM325 285h1v1h-1zM325 284h1v1h-1zM326 283h1v1h-1zM326 282h1v1h-1zM339 282h2v1h-2zM327 281h1v1h-1zM336 281h3v1h-3zM341 281h1v1h-1zM327 280h4v1h-4zM332 280h4v1h-4zM341 280h1v1h-1zM342 279h1v1h-1zM342 278h1v1h-1zM343 277h1v1h-1zM344 276h1v1h-1zM344 275h1v1h-1zM345 274h1v1h-1zM354 274h8v1h-8zM345 273h1v1h-1zM352 273h2v1h-2zM362 273h2v1h-2zM346 272h1v1h-1zM350 272h2v1h-2zM364 272h2v1h-2zM346 271h1v1h-1zM348 271h2v1h-2zM366 271h2v1h-2zM347 270h1v1h-1zM368 270h1v1h-1zM369 269h1v1h-1zM369 268h1v1h-1zM370 267h1v1h-1zM370 266h1v1h-1zM371 265h1v1h-1zM372 264h1v1h-1zM372 263h1v1h-1zM373 262h1v1h-1zM373 261h1v1h-1zM374 260h1v1h-1zM374 259h1v1h-1zM375 258h1v1h-1zM376 257h1v1h-1zM377 256h1v1h-1zM378 255h2v1h-2zM380 254h1v1h-1zM609 254h2v1h-2zM637 254h3v1h-3zM742 254h8v1h-8zM768 254h9v1h-9zM381 253h1v1h-1zM605 253h4v1h-4zM611 253h2v1h-2zM633 253h4v1h-4zM640 253h4v1h-4zM740 253h2v1h-2zM750 253h4v1h-4zM764 253h4v1h-4zM777 253h2v1h-2zM382 252h15v1h-15zM568 252h3v1h-3zM596 252h9v1h-9zM613 252h2v1h-2zM623 252h10v1h-10zM644 252h3v1h-3zM685 252h9v1h-9zM738 252h2v1h-2zM754 252h10v1h-10zM779 252h2v1h-2zM397 251h2v1h-2zM564 251h4v1h-4zM571 251h4v1h-4zM594 251h2v1h-2zM615 251h2v1h-2zM619 251h4v1h-4zM647 251h4v1h-4zM681 251h4v1h-4zM694 251h1v1h-1zM736 251h2v1h-2zM781 251h2v1h-2zM399 250h2v1h-2zM457 250h3v1h-3zM519 250h31v1h-31zM561 250h3v1h-3zM575 250h9v1h-9zM592 250h2v1h-2zM617 250h2v1h-2zM651 250h3v1h-3zM664 250h17v1h-17zM695 250h1v1h-1zM721 250h15v1h-15zM783 250h2v1h-2zM901 250h2v1h-2zM401 249h2v1h-2zM453 249h4v1h-4zM460 249h4v1h-4zM515 249h4v1h-4zM550 249h4v1h-4zM557 249h4v1h-4zM584 249h4v1h-4zM590 249h2v1h-2zM654 249h3v1h-3zM660 249h4v1h-4zM696 249h2v1h-2zM719 249h2v1h-2zM785 249h4v1h-4zM899 249h2v1h-2zM903 249h3v1h-3zM403 248h2v1h-2zM436 248h3v1h-3zM450 248h3v1h-3zM464 248h17v1h-17zM505 248h10v1h-10zM554 248h3v1h-3zM588 248h2v1h-2zM657 248h3v1h-3zM698 248h1v1h-1zM717 248h2v1h-2zM789 248h2v1h-2zM897 248h2v1h-2zM906 248h3v1h-3zM405 247h4v1h-4zM432 247h4v1h-4zM439 247h4v1h-4zM446 247h4v1h-4zM481 247h4v1h-4zM501 247h4v1h-4zM699 247h1v1h-1zM715 247h2v1h-2zM791 247h2v1h-2zM895 247h2v1h-2zM909 247h4v1h-4zM409 246h3v1h-3zM429 246h3v1h-3zM443 246h3v1h-3zM485 246h16v1h-16zM700 246h15v1h-15zM793 246h2v1h-2zM893 246h2v1h-2zM913 246h23v1h-23zM412 245h3v1h-3zM425 245h4v1h-4zM795 245h2v1h-2zM889 245h4v1h-4zM936 245h2v1h-2zM415 244h10v1h-10zM797 244h8v1h-8zM859 244h30v1h-30zM938 244h2v1h-2zM805 243h2v1h-2zM857 243h2v1h-2zM940 243h2v1h-2zM807 242h2v1h-2zM823 242h3v1h-3zM844 242h3v1h-3zM855 242h2v1h-2zM942 242h1v1h-1zM809 241h2v1h-2zM820 241h3v1h-3zM826 241h4v1h-4zM840 241h4v1h-4zM847 241h4v1h-4zM853 241h2v1h-2zM811 240h9v1h-9zM830 240h10v1h-10zM851 240h2v1h-2z"/>
</svg>
</body></html>
